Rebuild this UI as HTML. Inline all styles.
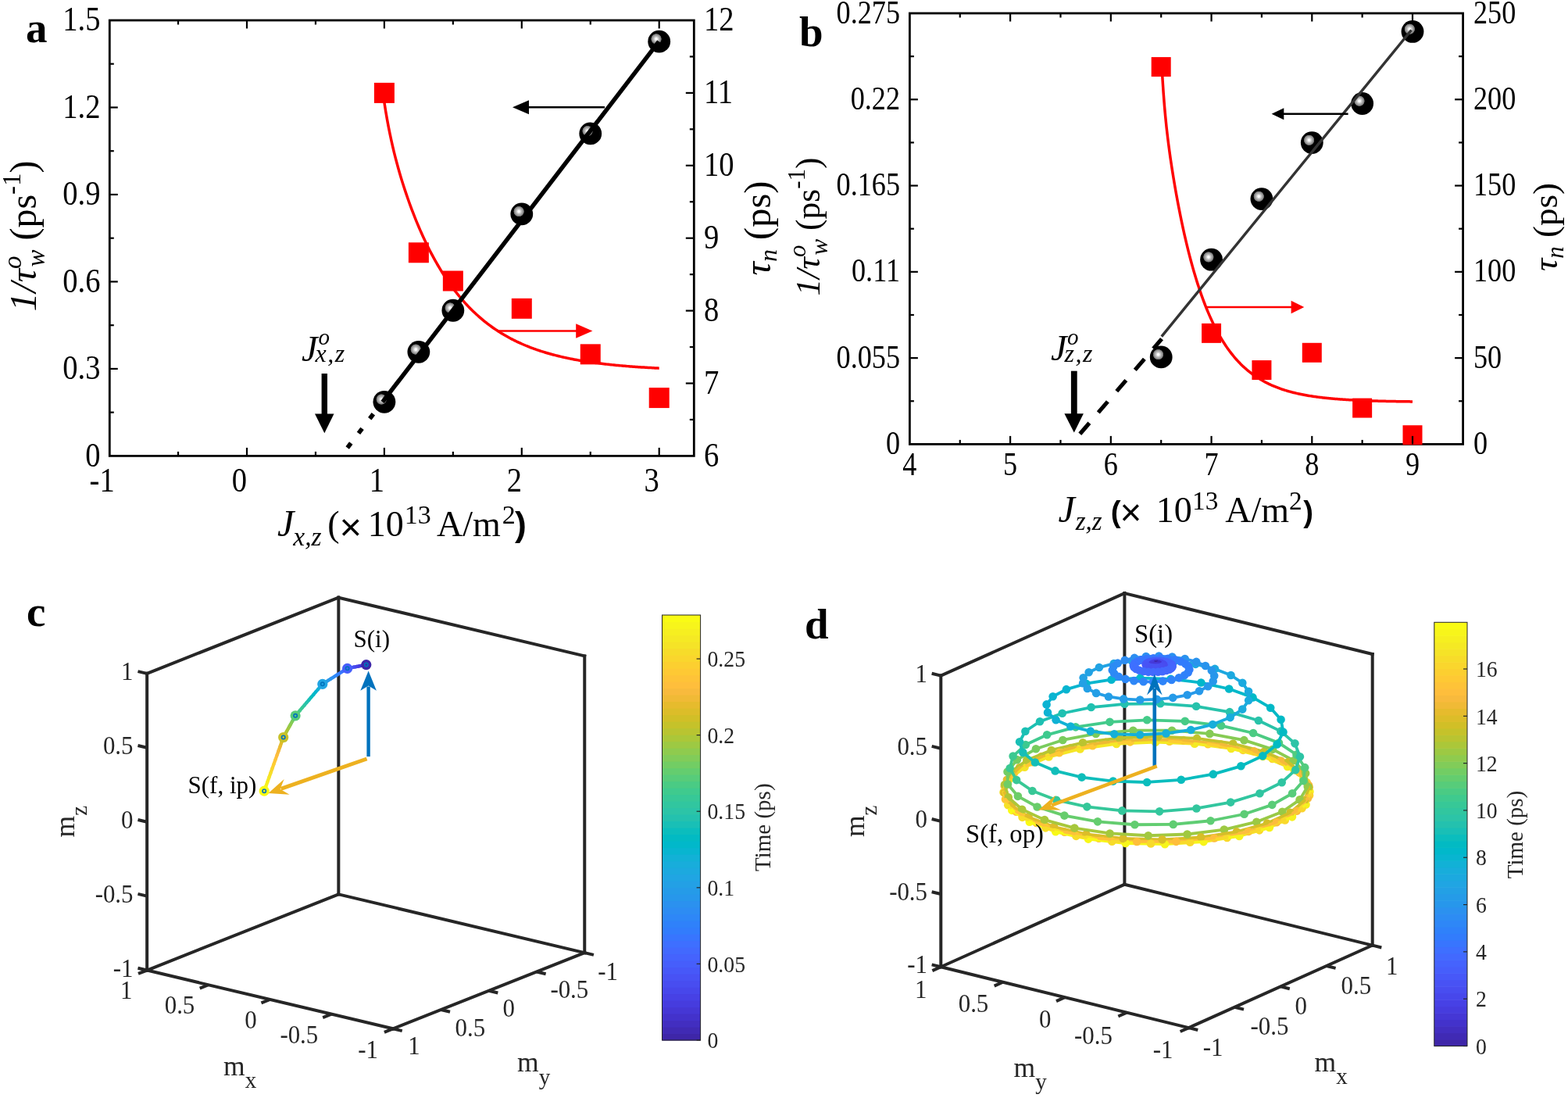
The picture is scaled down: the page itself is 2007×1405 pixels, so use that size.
<!DOCTYPE html>
<html><head><meta charset="utf-8"><title>Figure</title>
<style>html,body{margin:0;padding:0;background:#fff;} svg{display:block;}</style></head>
<body><svg width="2007" height="1405" viewBox="0 0 2007 1405">
<rect width="2007" height="1405" fill="#fff"/>
<defs>
<radialGradient id="ball" cx="0.372" cy="0.386" r="0.5" fx="0.372" fy="0.386"><stop offset="0" stop-color="#fff"/><stop offset="0.09" stop-color="#fff"/><stop offset="0.15" stop-color="#d8d8d8"/><stop offset="0.25" stop-color="#b8b8b8"/><stop offset="0.33" stop-color="#9c9c9c"/><stop offset="0.39" stop-color="#8a8a8a"/><stop offset="0.44" stop-color="#6a6a6a"/><stop offset="0.48" stop-color="#000"/><stop offset="1" stop-color="#000"/></radialGradient>
</defs>
<line x1="228.05" y1="583.4" x2="228.05" y2="577.9" stroke="#000" stroke-width="2.2" />
<line x1="228.05" y1="26" x2="228.05" y2="31.5" stroke="#000" stroke-width="2.2" />
<line x1="316" y1="583.4" x2="316" y2="572.9" stroke="#000" stroke-width="2.2" />
<line x1="316" y1="26" x2="316" y2="36.5" stroke="#000" stroke-width="2.2" />
<line x1="403.95" y1="583.4" x2="403.95" y2="577.9" stroke="#000" stroke-width="2.2" />
<line x1="403.95" y1="26" x2="403.95" y2="31.5" stroke="#000" stroke-width="2.2" />
<line x1="491.9" y1="583.4" x2="491.9" y2="572.9" stroke="#000" stroke-width="2.2" />
<line x1="491.9" y1="26" x2="491.9" y2="36.5" stroke="#000" stroke-width="2.2" />
<line x1="579.85" y1="583.4" x2="579.85" y2="577.9" stroke="#000" stroke-width="2.2" />
<line x1="579.85" y1="26" x2="579.85" y2="31.5" stroke="#000" stroke-width="2.2" />
<line x1="667.8" y1="583.4" x2="667.8" y2="572.9" stroke="#000" stroke-width="2.2" />
<line x1="667.8" y1="26" x2="667.8" y2="36.5" stroke="#000" stroke-width="2.2" />
<line x1="755.75" y1="583.4" x2="755.75" y2="577.9" stroke="#000" stroke-width="2.2" />
<line x1="755.75" y1="26" x2="755.75" y2="31.5" stroke="#000" stroke-width="2.2" />
<line x1="843.7" y1="583.4" x2="843.7" y2="572.9" stroke="#000" stroke-width="2.2" />
<line x1="843.7" y1="26" x2="843.7" y2="36.5" stroke="#000" stroke-width="2.2" />
<line x1="140.3" y1="527.66" x2="145.8" y2="527.66" stroke="#000" stroke-width="2.2" />
<line x1="140.3" y1="471.92" x2="150.8" y2="471.92" stroke="#000" stroke-width="2.2" />
<line x1="140.3" y1="416.18" x2="145.8" y2="416.18" stroke="#000" stroke-width="2.2" />
<line x1="140.3" y1="360.44" x2="150.8" y2="360.44" stroke="#000" stroke-width="2.2" />
<line x1="140.3" y1="304.7" x2="145.8" y2="304.7" stroke="#000" stroke-width="2.2" />
<line x1="140.3" y1="248.96" x2="150.8" y2="248.96" stroke="#000" stroke-width="2.2" />
<line x1="140.3" y1="193.22" x2="145.8" y2="193.22" stroke="#000" stroke-width="2.2" />
<line x1="140.3" y1="137.48" x2="150.8" y2="137.48" stroke="#000" stroke-width="2.2" />
<line x1="140.3" y1="81.74" x2="145.8" y2="81.74" stroke="#000" stroke-width="2.2" />
<line x1="888.3" y1="536.95" x2="882.8" y2="536.95" stroke="#000" stroke-width="2.2" />
<line x1="888.3" y1="490.5" x2="877.8" y2="490.5" stroke="#000" stroke-width="2.2" />
<line x1="888.3" y1="444.05" x2="882.8" y2="444.05" stroke="#000" stroke-width="2.2" />
<line x1="888.3" y1="397.6" x2="877.8" y2="397.6" stroke="#000" stroke-width="2.2" />
<line x1="888.3" y1="351.15" x2="882.8" y2="351.15" stroke="#000" stroke-width="2.2" />
<line x1="888.3" y1="304.7" x2="877.8" y2="304.7" stroke="#000" stroke-width="2.2" />
<line x1="888.3" y1="258.25" x2="882.8" y2="258.25" stroke="#000" stroke-width="2.2" />
<line x1="888.3" y1="211.8" x2="877.8" y2="211.8" stroke="#000" stroke-width="2.2" />
<line x1="888.3" y1="165.35" x2="882.8" y2="165.35" stroke="#000" stroke-width="2.2" />
<line x1="888.3" y1="118.9" x2="877.8" y2="118.9" stroke="#000" stroke-width="2.2" />
<line x1="888.3" y1="72.45" x2="882.8" y2="72.45" stroke="#000" stroke-width="2.2" />
<rect x="140.3" y="26.0" width="748" height="557.4" fill="none" stroke="#000" stroke-width="2.8"/>
<text transform="translate(130.6,628.5) scale(0.94,1.07)" font-size="41" text-anchor="middle" font-weight="normal" font-style="normal" fill="#000" font-family="'Liberation Serif','Times New Roman',serif" >-1</text>
<text transform="translate(306.5,628.5) scale(0.94,1.07)" font-size="41" text-anchor="middle" font-weight="normal" font-style="normal" fill="#000" font-family="'Liberation Serif','Times New Roman',serif" >0</text>
<text transform="translate(482.4,628.5) scale(0.94,1.07)" font-size="41" text-anchor="middle" font-weight="normal" font-style="normal" fill="#000" font-family="'Liberation Serif','Times New Roman',serif" >1</text>
<text transform="translate(658.3,628.5) scale(0.94,1.07)" font-size="41" text-anchor="middle" font-weight="normal" font-style="normal" fill="#000" font-family="'Liberation Serif','Times New Roman',serif" >2</text>
<text transform="translate(834.2,628.5) scale(0.94,1.07)" font-size="41" text-anchor="middle" font-weight="normal" font-style="normal" fill="#000" font-family="'Liberation Serif','Times New Roman',serif" >3</text>
<text transform="translate(128.5,596.6) scale(0.94,1.07)" font-size="41" text-anchor="end" font-weight="normal" font-style="normal" fill="#000" font-family="'Liberation Serif','Times New Roman',serif" >0</text>
<text transform="translate(128.5,485.12) scale(0.94,1.07)" font-size="41" text-anchor="end" font-weight="normal" font-style="normal" fill="#000" font-family="'Liberation Serif','Times New Roman',serif" >0.3</text>
<text transform="translate(128.5,373.64) scale(0.94,1.07)" font-size="41" text-anchor="end" font-weight="normal" font-style="normal" fill="#000" font-family="'Liberation Serif','Times New Roman',serif" >0.6</text>
<text transform="translate(128.5,262.16) scale(0.94,1.07)" font-size="41" text-anchor="end" font-weight="normal" font-style="normal" fill="#000" font-family="'Liberation Serif','Times New Roman',serif" >0.9</text>
<text transform="translate(128.5,150.68) scale(0.94,1.07)" font-size="41" text-anchor="end" font-weight="normal" font-style="normal" fill="#000" font-family="'Liberation Serif','Times New Roman',serif" >1.2</text>
<text transform="translate(128.5,39.2) scale(0.94,1.07)" font-size="41" text-anchor="end" font-weight="normal" font-style="normal" fill="#000" font-family="'Liberation Serif','Times New Roman',serif" >1.5</text>
<text transform="translate(901,596.6) scale(0.94,1.07)" font-size="41" text-anchor="start" font-weight="normal" font-style="normal" fill="#000" font-family="'Liberation Serif','Times New Roman',serif" >6</text>
<text transform="translate(901,503.7) scale(0.94,1.07)" font-size="41" text-anchor="start" font-weight="normal" font-style="normal" fill="#000" font-family="'Liberation Serif','Times New Roman',serif" >7</text>
<text transform="translate(901,410.8) scale(0.94,1.07)" font-size="41" text-anchor="start" font-weight="normal" font-style="normal" fill="#000" font-family="'Liberation Serif','Times New Roman',serif" >8</text>
<text transform="translate(901,317.9) scale(0.94,1.07)" font-size="41" text-anchor="start" font-weight="normal" font-style="normal" fill="#000" font-family="'Liberation Serif','Times New Roman',serif" >9</text>
<text transform="translate(901,225) scale(0.94,1.07)" font-size="41" text-anchor="start" font-weight="normal" font-style="normal" fill="#000" font-family="'Liberation Serif','Times New Roman',serif" >10</text>
<text transform="translate(901,132.1) scale(0.94,1.07)" font-size="41" text-anchor="start" font-weight="normal" font-style="normal" fill="#000" font-family="'Liberation Serif','Times New Roman',serif" >11</text>
<text transform="translate(901,39.2) scale(0.94,1.07)" font-size="41" text-anchor="start" font-weight="normal" font-style="normal" fill="#000" font-family="'Liberation Serif','Times New Roman',serif" >12</text>
<polyline points="491.9,131.07 493.66,142.18 495.42,152.39 497.18,161.84 498.94,170.65 500.7,178.91 502.45,186.69 504.21,194.07 505.97,201.09 507.73,207.8 509.49,214.24 511.25,220.43 513.01,226.4 514.77,232.16 516.53,237.75 518.28,243.16 520.04,248.42 521.8,253.53 523.56,258.5 525.32,263.35 527.08,268.07 528.84,272.67 530.6,277.16 532.36,281.54 534.12,285.82 535.88,290 537.63,294.09 539.39,298.07 541.15,301.97 542.91,305.78 544.67,309.51 546.43,313.15 548.19,316.71 549.95,320.19 551.71,323.59 553.47,326.92 555.22,330.17 556.98,333.35 558.74,336.46 560.5,339.5 562.26,342.48 564.02,345.39 565.78,348.23 567.54,351.02 569.3,353.74 571.06,356.4 572.81,359 574.57,361.55 576.33,364.04 578.09,366.48 579.85,368.86 581.61,371.19 583.37,373.47 585.13,375.69 586.89,377.87 588.64,380 590.4,382.09 592.16,384.13 593.92,386.12 595.68,388.07 597.44,389.98 599.2,391.85 600.96,393.67 602.72,395.46 604.48,397.2 606.24,398.91 607.99,400.58 609.75,402.21 611.51,403.81 613.27,405.37 615.03,406.9 616.79,408.39 618.55,409.85 620.31,411.28 622.07,412.68 623.83,414.05 625.58,415.38 627.34,416.69 629.1,417.97 630.86,419.22 632.62,420.45 634.38,421.64 636.14,422.81 637.9,423.96 639.66,425.08 641.41,426.17 643.17,427.24 644.93,428.29 646.69,429.31 648.45,430.32 650.21,431.3 651.97,432.25 653.73,433.19 655.49,434.11 657.25,435.01 659,435.88 660.76,436.74 662.52,437.58 664.28,438.4 666.04,439.2 667.8,439.99 669.56,440.75 671.32,441.5 673.08,442.24 674.84,442.96 676.6,443.66 678.35,444.35 680.11,445.02 681.87,445.68 683.63,446.32 685.39,446.95 687.15,447.56 688.91,448.16 690.67,448.75 692.43,449.33 694.18,449.89 695.94,450.44 697.7,450.98 699.46,451.5 701.22,452.02 702.98,452.52 704.74,453.01 706.5,453.49 708.26,453.97 710.02,454.43 711.78,454.88 713.53,455.32 715.29,455.75 717.05,456.17 718.81,456.58 720.57,456.98 722.33,457.38 724.09,457.76 725.85,458.14 727.61,458.51 729.37,458.87 731.12,459.22 732.88,459.57 734.64,459.91 736.4,460.24 738.16,460.56 739.92,460.88 741.68,461.19 743.44,461.49 745.2,461.78 746.96,462.07 748.71,462.35 750.47,462.63 752.23,462.9 753.99,463.17 755.75,463.42 757.51,463.68 759.27,463.92 761.03,464.17 762.79,464.4 764.54,464.63 766.3,464.86 768.06,465.08 769.82,465.3 771.58,465.51 773.34,465.72 775.1,465.92 776.86,466.12 778.62,466.31 780.38,466.5 782.13,466.69 783.89,466.87 785.65,467.05 787.41,467.22 789.17,467.39 790.93,467.55 792.69,467.72 794.45,467.88 796.21,468.03 797.97,468.18 799.73,468.33 801.48,468.48 803.24,468.62 805,468.76 806.76,468.89 808.52,469.03 810.28,469.16 812.04,469.28 813.8,469.41 815.56,469.53 817.32,469.65 819.07,469.76 820.83,469.88 822.59,469.99 824.35,470.1 826.11,470.2 827.87,470.31 829.63,470.41 831.39,470.51 833.15,470.61 834.91,470.7 836.66,470.79 838.42,470.89 840.18,470.97 841.94,471.06 843.7,471.15" fill="none" stroke="#f00" stroke-width="3.5" />
<rect x="478.9" y="105.9" width="26" height="26" fill="#f00"/>
<rect x="522.88" y="310.28" width="26" height="26" fill="#f00"/>
<rect x="566.85" y="346.51" width="26" height="26" fill="#f00"/>
<rect x="654.8" y="381.81" width="26" height="26" fill="#f00"/>
<rect x="742.75" y="440.34" width="26" height="26" fill="#f00"/>
<rect x="830.7" y="496.08" width="26" height="26" fill="#f00"/>
<line x1="444.67" y1="573" x2="489.68" y2="514.3" stroke="#000" stroke-width="5.6" stroke-dasharray="7.5 16"/>
<circle cx="491.9" cy="514.28" r="14.4" fill="url(#ball)"/>
<circle cx="535.88" cy="450.37" r="14.4" fill="url(#ball)"/>
<circle cx="579.85" cy="397.23" r="14.4" fill="url(#ball)"/>
<circle cx="667.8" cy="273.86" r="14.4" fill="url(#ball)"/>
<circle cx="755.75" cy="170.92" r="14.4" fill="url(#ball)"/>
<circle cx="843.7" cy="53.13" r="14.4" fill="url(#ball)"/>
<line x1="489.68" y1="514.3" x2="843.33" y2="53.1" stroke="#000" stroke-width="5.5" />
<line x1="774" y1="137.3" x2="670" y2="137.3" stroke="#000" stroke-width="2.6" />
<polygon points="656,137.3 677,128.3 677,146.3" fill="#000" />
<line x1="637" y1="423.5" x2="745" y2="423.5" stroke="#f00" stroke-width="2.4" />
<polygon points="758.4,423.5 737.2,414.3 737.2,432.7" fill="#f00" />
<rect x="411.6" y="478" width="7.4" height="53" fill="#000"/>
<polygon points="403,529.5 427.5,529.5 415.3,554.3" fill="#000" />
<text x="386" y="461.5" font-size="46" text-anchor="start" font-weight="normal" font-style="italic" fill="#000" font-family="'Liberation Serif','Times New Roman',serif" >J</text>
<text x="407.5" y="440.5" font-size="29" text-anchor="start" font-weight="normal" font-style="italic" fill="#000" font-family="'Liberation Serif','Times New Roman',serif" >o</text>
<text x="403.5" y="463" font-size="32" text-anchor="start" font-weight="normal" font-style="italic" fill="#000" font-family="'Liberation Serif','Times New Roman',serif" letter-spacing="1.5">x,z</text>
<text transform="translate(45.5,302) rotate(-90)" font-size="48" text-anchor="middle" font-family="'Liberation Serif','Times New Roman',serif"><tspan font-style="italic">1/τ</tspan><tspan font-style="italic" font-size="33" dy="-19">o</tspan><tspan font-style="italic" font-size="33" dx="-14" dy="30">w</tspan><tspan dy="-11"> (ps</tspan><tspan font-size="33" dy="-20">-1</tspan><tspan dy="20">)</tspan></text>
<text transform="translate(986,292) rotate(-90)" font-size="48.5" text-anchor="middle" font-family="'Liberation Serif','Times New Roman',serif"><tspan font-style="italic">τ</tspan><tspan font-style="italic" font-size="32" dy="8">n</tspan><tspan dy="-8"> (ps)</tspan></text>
<text font-size="46" font-family="'Liberation Serif','Times New Roman',serif"><tspan x="355.1" y="686" font-style="italic" font-size="48">J</tspan><tspan x="375.3" y="698" font-style="italic" font-size="33.5">x,z</tspan><tspan x="419.3" y="685.5">(</tspan><tspan x="434.4" y="691.4" font-family="'Liberation Sans',Arial,sans-serif" font-size="49">×</tspan><tspan x="470.7" y="686">10</tspan><tspan x="517.8" y="670.2" font-size="34">13</tspan><tspan x="559" y="686">A/m</tspan><tspan x="642.8" y="670" font-size="34">2</tspan><tspan x="659" y="686" font-family="'Liberation Sans',Arial,sans-serif" font-weight="bold" font-size="44.5">)</tspan></text>
<text x="33" y="54" font-size="55" text-anchor="start" font-weight="bold" font-style="normal" fill="#000" font-family="'Liberation Serif','Times New Roman',serif" >a</text>
<line x1="1228.76" y1="568.4" x2="1228.76" y2="562.9" stroke="#000" stroke-width="2.2" />
<line x1="1228.76" y1="17" x2="1228.76" y2="22.5" stroke="#000" stroke-width="2.2" />
<line x1="1293.12" y1="568.4" x2="1293.12" y2="557.9" stroke="#000" stroke-width="2.2" />
<line x1="1293.12" y1="17" x2="1293.12" y2="27.5" stroke="#000" stroke-width="2.2" />
<line x1="1357.48" y1="568.4" x2="1357.48" y2="562.9" stroke="#000" stroke-width="2.2" />
<line x1="1357.48" y1="17" x2="1357.48" y2="22.5" stroke="#000" stroke-width="2.2" />
<line x1="1421.84" y1="568.4" x2="1421.84" y2="557.9" stroke="#000" stroke-width="2.2" />
<line x1="1421.84" y1="17" x2="1421.84" y2="27.5" stroke="#000" stroke-width="2.2" />
<line x1="1486.2" y1="568.4" x2="1486.2" y2="562.9" stroke="#000" stroke-width="2.2" />
<line x1="1486.2" y1="17" x2="1486.2" y2="22.5" stroke="#000" stroke-width="2.2" />
<line x1="1550.56" y1="568.4" x2="1550.56" y2="557.9" stroke="#000" stroke-width="2.2" />
<line x1="1550.56" y1="17" x2="1550.56" y2="27.5" stroke="#000" stroke-width="2.2" />
<line x1="1614.92" y1="568.4" x2="1614.92" y2="562.9" stroke="#000" stroke-width="2.2" />
<line x1="1614.92" y1="17" x2="1614.92" y2="22.5" stroke="#000" stroke-width="2.2" />
<line x1="1679.28" y1="568.4" x2="1679.28" y2="557.9" stroke="#000" stroke-width="2.2" />
<line x1="1679.28" y1="17" x2="1679.28" y2="27.5" stroke="#000" stroke-width="2.2" />
<line x1="1743.64" y1="568.4" x2="1743.64" y2="562.9" stroke="#000" stroke-width="2.2" />
<line x1="1743.64" y1="17" x2="1743.64" y2="22.5" stroke="#000" stroke-width="2.2" />
<line x1="1808" y1="568.4" x2="1808" y2="557.9" stroke="#000" stroke-width="2.2" />
<line x1="1808" y1="17" x2="1808" y2="27.5" stroke="#000" stroke-width="2.2" />
<line x1="1164.4" y1="513.26" x2="1169.9" y2="513.26" stroke="#000" stroke-width="2.2" />
<line x1="1164.4" y1="458.12" x2="1174.9" y2="458.12" stroke="#000" stroke-width="2.2" />
<line x1="1164.4" y1="402.98" x2="1169.9" y2="402.98" stroke="#000" stroke-width="2.2" />
<line x1="1164.4" y1="347.84" x2="1174.9" y2="347.84" stroke="#000" stroke-width="2.2" />
<line x1="1164.4" y1="292.7" x2="1169.9" y2="292.7" stroke="#000" stroke-width="2.2" />
<line x1="1164.4" y1="237.56" x2="1174.9" y2="237.56" stroke="#000" stroke-width="2.2" />
<line x1="1164.4" y1="182.42" x2="1169.9" y2="182.42" stroke="#000" stroke-width="2.2" />
<line x1="1164.4" y1="127.28" x2="1174.9" y2="127.28" stroke="#000" stroke-width="2.2" />
<line x1="1164.4" y1="72.14" x2="1169.9" y2="72.14" stroke="#000" stroke-width="2.2" />
<line x1="1872.6" y1="513.26" x2="1867.1" y2="513.26" stroke="#000" stroke-width="2.2" />
<line x1="1872.6" y1="458.12" x2="1862.1" y2="458.12" stroke="#000" stroke-width="2.2" />
<line x1="1872.6" y1="402.98" x2="1867.1" y2="402.98" stroke="#000" stroke-width="2.2" />
<line x1="1872.6" y1="347.84" x2="1862.1" y2="347.84" stroke="#000" stroke-width="2.2" />
<line x1="1872.6" y1="292.7" x2="1867.1" y2="292.7" stroke="#000" stroke-width="2.2" />
<line x1="1872.6" y1="237.56" x2="1862.1" y2="237.56" stroke="#000" stroke-width="2.2" />
<line x1="1872.6" y1="182.42" x2="1867.1" y2="182.42" stroke="#000" stroke-width="2.2" />
<line x1="1872.6" y1="127.28" x2="1862.1" y2="127.28" stroke="#000" stroke-width="2.2" />
<line x1="1872.6" y1="72.14" x2="1867.1" y2="72.14" stroke="#000" stroke-width="2.2" />
<rect x="1164.4" y="17.0" width="708.2" height="551.4" fill="none" stroke="#000" stroke-width="2.8"/>
<text transform="translate(1164.4,607.8) scale(0.94,1.07)" font-size="38.5" text-anchor="middle" font-weight="normal" font-style="normal" fill="#000" font-family="'Liberation Serif','Times New Roman',serif" >4</text>
<text transform="translate(1293.12,607.8) scale(0.94,1.07)" font-size="38.5" text-anchor="middle" font-weight="normal" font-style="normal" fill="#000" font-family="'Liberation Serif','Times New Roman',serif" >5</text>
<text transform="translate(1421.84,607.8) scale(0.94,1.07)" font-size="38.5" text-anchor="middle" font-weight="normal" font-style="normal" fill="#000" font-family="'Liberation Serif','Times New Roman',serif" >6</text>
<text transform="translate(1550.56,607.8) scale(0.94,1.07)" font-size="38.5" text-anchor="middle" font-weight="normal" font-style="normal" fill="#000" font-family="'Liberation Serif','Times New Roman',serif" >7</text>
<text transform="translate(1679.28,607.8) scale(0.94,1.07)" font-size="38.5" text-anchor="middle" font-weight="normal" font-style="normal" fill="#000" font-family="'Liberation Serif','Times New Roman',serif" >8</text>
<text transform="translate(1808,607.8) scale(0.94,1.07)" font-size="38.5" text-anchor="middle" font-weight="normal" font-style="normal" fill="#000" font-family="'Liberation Serif','Times New Roman',serif" >9</text>
<text transform="translate(1152,580.9) scale(0.94,1.07)" font-size="38.5" text-anchor="end" font-weight="normal" font-style="normal" fill="#000" font-family="'Liberation Serif','Times New Roman',serif" >0</text>
<text transform="translate(1152,470.62) scale(0.94,1.07)" font-size="38.5" text-anchor="end" font-weight="normal" font-style="normal" fill="#000" font-family="'Liberation Serif','Times New Roman',serif" >0.055</text>
<text transform="translate(1152,360.34) scale(0.94,1.07)" font-size="38.5" text-anchor="end" font-weight="normal" font-style="normal" fill="#000" font-family="'Liberation Serif','Times New Roman',serif" >0.11</text>
<text transform="translate(1152,250.06) scale(0.94,1.07)" font-size="38.5" text-anchor="end" font-weight="normal" font-style="normal" fill="#000" font-family="'Liberation Serif','Times New Roman',serif" >0.165</text>
<text transform="translate(1152,139.78) scale(0.94,1.07)" font-size="38.5" text-anchor="end" font-weight="normal" font-style="normal" fill="#000" font-family="'Liberation Serif','Times New Roman',serif" >0.22</text>
<text transform="translate(1152,29.5) scale(0.94,1.07)" font-size="38.5" text-anchor="end" font-weight="normal" font-style="normal" fill="#000" font-family="'Liberation Serif','Times New Roman',serif" >0.275</text>
<text transform="translate(1886,580.9) scale(0.94,1.07)" font-size="38.5" text-anchor="start" font-weight="normal" font-style="normal" fill="#000" font-family="'Liberation Serif','Times New Roman',serif" >0</text>
<text transform="translate(1886,470.62) scale(0.94,1.07)" font-size="38.5" text-anchor="start" font-weight="normal" font-style="normal" fill="#000" font-family="'Liberation Serif','Times New Roman',serif" >50</text>
<text transform="translate(1886,360.34) scale(0.94,1.07)" font-size="38.5" text-anchor="start" font-weight="normal" font-style="normal" fill="#000" font-family="'Liberation Serif','Times New Roman',serif" >100</text>
<text transform="translate(1886,250.06) scale(0.94,1.07)" font-size="38.5" text-anchor="start" font-weight="normal" font-style="normal" fill="#000" font-family="'Liberation Serif','Times New Roman',serif" >150</text>
<text transform="translate(1886,139.78) scale(0.94,1.07)" font-size="38.5" text-anchor="start" font-weight="normal" font-style="normal" fill="#000" font-family="'Liberation Serif','Times New Roman',serif" >200</text>
<text transform="translate(1886,29.5) scale(0.94,1.07)" font-size="38.5" text-anchor="start" font-weight="normal" font-style="normal" fill="#000" font-family="'Liberation Serif','Times New Roman',serif" >250</text>
<polyline points="1486.59,75.06 1487.87,99.07 1489.16,118.72 1490.44,135.24 1491.73,149.49 1493.01,162.07 1494.3,173.42 1495.59,183.84 1496.87,193.53 1498.16,202.66 1499.44,211.33 1500.73,219.62 1502.01,227.58 1503.3,235.25 1504.59,242.68 1505.87,249.87 1507.16,256.85 1508.44,263.62 1509.73,270.21 1511.01,276.61 1512.3,282.84 1513.58,288.9 1514.87,294.81 1516.16,300.55 1517.44,306.14 1518.73,311.59 1520.01,316.89 1521.3,322.06 1522.58,327.09 1523.87,331.98 1525.16,336.75 1526.44,341.4 1527.73,345.92 1529.01,350.32 1530.3,354.61 1531.58,358.79 1532.87,362.86 1534.16,366.82 1535.44,370.68 1536.73,374.43 1538.01,378.09 1539.3,381.66 1540.58,385.13 1541.87,388.5 1543.15,391.8 1544.44,395 1545.73,398.12 1547.01,401.16 1548.3,404.12 1549.58,407.01 1550.87,409.81 1552.15,412.55 1553.44,415.21 1554.73,417.8 1556.01,420.33 1557.3,422.79 1558.58,425.18 1559.87,427.52 1561.15,429.79 1562.44,432 1563.73,434.15 1565.01,436.25 1566.3,438.3 1567.58,440.28 1568.87,442.22 1570.15,444.11 1571.44,445.95 1572.73,447.74 1574.01,449.48 1575.3,451.18 1576.58,452.83 1577.87,454.44 1579.15,456.01 1580.44,457.54 1581.72,459.02 1583.01,460.47 1584.3,461.88 1585.58,463.26 1586.87,464.59 1588.15,465.9 1589.44,467.16 1590.72,468.4 1592.01,469.6 1593.3,470.77 1594.58,471.92 1595.87,473.03 1597.15,474.11 1598.44,475.16 1599.72,476.19 1601.01,477.19 1602.3,478.16 1603.58,479.11 1604.87,480.03 1606.15,480.93 1607.44,481.81 1608.72,482.66 1610.01,483.49 1611.29,484.3 1612.58,485.09 1613.87,485.85 1615.15,486.6 1616.44,487.33 1617.72,488.04 1619.01,488.73 1620.29,489.4 1621.58,490.05 1622.87,490.69 1624.15,491.31 1625.44,491.91 1626.72,492.5 1628.01,493.08 1629.29,493.63 1630.58,494.18 1631.87,494.71 1633.15,495.22 1634.44,495.73 1635.72,496.21 1637.01,496.69 1638.29,497.15 1639.58,497.61 1640.86,498.05 1642.15,498.47 1643.44,498.89 1644.72,499.3 1646.01,499.69 1647.29,500.08 1648.58,500.45 1649.86,500.82 1651.15,501.17 1652.44,501.52 1653.72,501.86 1655.01,502.19 1656.29,502.51 1657.58,502.82 1658.86,503.12 1660.15,503.42 1661.44,503.71 1662.72,503.99 1664.01,504.26 1665.29,504.53 1666.58,504.78 1667.86,505.04 1669.15,505.28 1670.43,505.52 1671.72,505.75 1673.01,505.98 1674.29,506.2 1675.58,506.42 1676.86,506.63 1678.15,506.83 1679.43,507.03 1680.72,507.22 1682.01,507.41 1683.29,507.59 1684.58,507.77 1685.86,507.95 1687.15,508.12 1688.43,508.28 1689.72,508.44 1691.01,508.6 1692.29,508.75 1693.58,508.9 1694.86,509.05 1696.15,509.19 1697.43,509.32 1698.72,509.46 1700,509.59 1701.29,509.71 1702.58,509.84 1703.86,509.96 1705.15,510.07 1706.43,510.19 1707.72,510.3 1709,510.41 1710.29,510.51 1711.58,510.61 1712.86,510.71 1714.15,510.81 1715.43,510.91 1716.72,511 1718,511.09 1719.29,511.18 1720.58,511.26 1721.86,511.34 1723.15,511.42 1724.43,511.5 1725.72,511.58 1727,511.65 1728.29,511.73 1729.58,511.8 1730.86,511.87 1732.15,511.93 1733.43,512 1734.72,512.06 1736,512.13 1737.29,512.19 1738.57,512.24 1739.86,512.3 1741.15,512.36 1742.43,512.41 1743.72,512.46 1745,512.52 1746.29,512.57 1747.57,512.61 1748.86,512.66 1750.15,512.71 1751.43,512.75 1752.72,512.8 1754,512.84 1755.29,512.88 1756.57,512.92 1757.86,512.96 1759.15,513 1760.43,513.04 1761.72,513.07 1763,513.11 1764.29,513.14 1765.57,513.18 1766.86,513.21 1768.14,513.24 1769.43,513.27 1770.72,513.3 1772,513.33 1773.29,513.36 1774.57,513.39 1775.86,513.42 1777.14,513.44 1778.43,513.47 1779.72,513.5 1781,513.52 1782.29,513.54 1783.57,513.57 1784.86,513.59 1786.14,513.61 1787.43,513.63 1788.72,513.65 1790,513.68 1791.29,513.69 1792.57,513.71 1793.86,513.73 1795.14,513.75 1796.43,513.77 1797.71,513.79 1799,513.8 1800.29,513.82 1801.57,513.84 1802.86,513.85 1804.14,513.87 1805.43,513.88 1806.71,513.9 1808,513.91" fill="none" stroke="#f00" stroke-width="3.5" />
<rect x="1473.7" y="73.09" width="25" height="25" fill="#f00"/>
<rect x="1538.06" y="413.86" width="25" height="25" fill="#f00"/>
<rect x="1602.42" y="461.06" width="25" height="25" fill="#f00"/>
<rect x="1666.78" y="438.78" width="25" height="25" fill="#f00"/>
<rect x="1731.14" y="509.58" width="25" height="25" fill="#f00"/>
<rect x="1795.5" y="544.21" width="25" height="25" fill="#f00"/>
<line x1="1808" y1="568.4" x2="1808" y2="557.9" stroke="#000" stroke-width="2.2" />
<circle cx="1486.2" cy="456.92" r="14.4" fill="url(#ball)"/>
<circle cx="1550.56" cy="332.2" r="14.4" fill="url(#ball)"/>
<circle cx="1614.92" cy="254.6" r="14.4" fill="url(#ball)"/>
<circle cx="1679.28" cy="182.62" r="14.4" fill="url(#ball)"/>
<circle cx="1743.64" cy="132.49" r="14.4" fill="url(#ball)"/>
<circle cx="1808" cy="40.46" r="14.4" fill="url(#ball)"/>
<line x1="1382.3" y1="555.2" x2="1487" y2="433.6" stroke="#000" stroke-width="5.2" stroke-dasharray="18.5 17.5"/>
<line x1="1486.8" y1="430.6" x2="1806.5" y2="38.5" stroke="#333" stroke-width="3.4" />
<line x1="1725.6" y1="145.7" x2="1640" y2="145.7" stroke="#000" stroke-width="2.4" />
<polygon points="1627.6,145.7 1643.3,138.2 1643.3,153.2" fill="#000" />
<line x1="1544.4" y1="393" x2="1656" y2="393" stroke="#f00" stroke-width="2.4" />
<polygon points="1669.3,393 1652.6,384.7 1652.6,401.3" fill="#f00" />
<rect x="1370.9" y="474.7" width="7.8" height="56" fill="#000"/>
<polygon points="1362.4,529.2 1386.9,529.2 1374.8,553.4" fill="#000" />
<text x="1345" y="461" font-size="46" text-anchor="start" font-weight="normal" font-style="italic" fill="#000" font-family="'Liberation Serif','Times New Roman',serif" >J</text>
<text x="1366" y="440.5" font-size="29" text-anchor="start" font-weight="normal" font-style="italic" fill="#000" font-family="'Liberation Serif','Times New Roman',serif" >o</text>
<text x="1362.5" y="462.6" font-size="32" text-anchor="start" font-weight="normal" font-style="italic" fill="#000" font-family="'Liberation Serif','Times New Roman',serif" letter-spacing="1.5">z,z</text>
<text transform="translate(1048.5,290) rotate(-90)" font-size="43.5" text-anchor="middle" font-family="'Liberation Serif','Times New Roman',serif"><tspan font-style="italic">1/τ</tspan><tspan font-style="italic" font-size="31" dy="-18">o</tspan><tspan font-style="italic" font-size="31" dx="-13" dy="28">w</tspan><tspan dy="-10"> (ps</tspan><tspan font-size="31" dy="-19">-1</tspan><tspan dy="19">)</tspan></text>
<text transform="translate(1992.8,290.5) rotate(-90)" font-size="45" text-anchor="middle" font-family="'Liberation Serif','Times New Roman',serif"><tspan font-style="italic">τ</tspan><tspan font-style="italic" font-size="31" dy="8">n</tspan><tspan dy="-8"> (ps)</tspan></text>
<text font-size="46" font-family="'Liberation Serif','Times New Roman',serif"><tspan x="1354.4" y="668" font-style="italic" font-size="48">J</tspan><tspan x="1376.7" y="678.4" font-style="italic" font-size="33">z,z</tspan><tspan x="1421.8" y="667.8" font-family="'Liberation Sans',Arial,sans-serif" font-weight="bold" font-size="38.6">(</tspan><tspan x="1433.5" y="671.7" font-family="'Liberation Sans',Arial,sans-serif" font-size="47.5">×</tspan><tspan x="1479.8" y="668">10</tspan><tspan x="1526.1" y="652.2" font-size="33.3">13</tspan><tspan x="1568.3" y="668">A/m</tspan><tspan x="1649.9" y="652.2" font-size="33.3">2</tspan><tspan x="1668.3" y="667.6" font-family="'Liberation Sans',Arial,sans-serif" font-weight="bold" font-size="38.2">)</tspan></text>
<text x="1023" y="58.5" font-size="55" text-anchor="start" font-weight="bold" font-style="normal" fill="#000" font-family="'Liberation Serif','Times New Roman',serif" >b</text>
<line x1="188.15" y1="1241.55" x2="188.15" y2="861.85" stroke="#262626" stroke-width="4" stroke-linecap="square"/>
<line x1="433.35" y1="1144.35" x2="433.35" y2="764.65" stroke="#262626" stroke-width="4" stroke-linecap="square"/>
<line x1="748.25" y1="1219.15" x2="748.25" y2="839.45" stroke="#262626" stroke-width="4" stroke-linecap="square"/>
<line x1="188.15" y1="861.85" x2="433.35" y2="764.65" stroke="#262626" stroke-width="4" stroke-linecap="square"/>
<line x1="433.35" y1="764.65" x2="748.25" y2="839.45" stroke="#262626" stroke-width="4" stroke-linecap="square"/>
<line x1="188.15" y1="1241.55" x2="433.35" y2="1144.35" stroke="#262626" stroke-width="4" stroke-linecap="square"/>
<line x1="433.35" y1="1144.35" x2="748.25" y2="1219.15" stroke="#262626" stroke-width="4" stroke-linecap="square"/>
<line x1="188.15" y1="1241.55" x2="503.05" y2="1316.35" stroke="#262626" stroke-width="4" stroke-linecap="square"/>
<line x1="503.05" y1="1316.35" x2="748.25" y2="1219.15" stroke="#262626" stroke-width="4" stroke-linecap="square"/>
<line x1="188.15" y1="1241.55" x2="176.47" y2="1238.78" stroke="#262626" stroke-width="4" />
<line x1="188.15" y1="1146.62" x2="176.47" y2="1143.85" stroke="#262626" stroke-width="4" />
<line x1="188.15" y1="1051.7" x2="176.47" y2="1048.93" stroke="#262626" stroke-width="4" />
<line x1="188.15" y1="956.78" x2="176.47" y2="954" stroke="#262626" stroke-width="4" />
<line x1="188.15" y1="861.85" x2="176.47" y2="859.08" stroke="#262626" stroke-width="4" />
<line x1="188.15" y1="1241.55" x2="176.99" y2="1245.97" stroke="#262626" stroke-width="4" />
<line x1="266.88" y1="1260.25" x2="255.72" y2="1264.67" stroke="#262626" stroke-width="4" />
<line x1="345.6" y1="1278.95" x2="334.44" y2="1283.37" stroke="#262626" stroke-width="4" />
<line x1="424.32" y1="1297.65" x2="413.17" y2="1302.07" stroke="#262626" stroke-width="4" />
<line x1="503.05" y1="1316.35" x2="491.89" y2="1320.77" stroke="#262626" stroke-width="4" />
<line x1="503.05" y1="1316.35" x2="514.73" y2="1319.12" stroke="#262626" stroke-width="4" />
<line x1="564.35" y1="1292.05" x2="576.03" y2="1294.82" stroke="#262626" stroke-width="4" />
<line x1="625.65" y1="1267.75" x2="637.33" y2="1270.52" stroke="#262626" stroke-width="4" />
<line x1="686.95" y1="1243.45" x2="698.63" y2="1246.22" stroke="#262626" stroke-width="4" />
<line x1="748.25" y1="1219.15" x2="759.93" y2="1221.92" stroke="#262626" stroke-width="4" />
<text transform="translate(170.5,870.05) scale(0.95,1.03)" font-size="32.5" text-anchor="end" font-weight="normal" font-style="normal" fill="#262626" font-family="'Liberation Serif','Times New Roman',serif" >1</text>
<text transform="translate(170.5,964.98) scale(0.95,1.03)" font-size="32.5" text-anchor="end" font-weight="normal" font-style="normal" fill="#262626" font-family="'Liberation Serif','Times New Roman',serif" >0.5</text>
<text transform="translate(170.5,1059.9) scale(0.95,1.03)" font-size="32.5" text-anchor="end" font-weight="normal" font-style="normal" fill="#262626" font-family="'Liberation Serif','Times New Roman',serif" >0</text>
<text transform="translate(170.5,1154.83) scale(0.95,1.03)" font-size="32.5" text-anchor="end" font-weight="normal" font-style="normal" fill="#262626" font-family="'Liberation Serif','Times New Roman',serif" >-0.5</text>
<text transform="translate(170.5,1249.75) scale(0.95,1.03)" font-size="32.5" text-anchor="end" font-weight="normal" font-style="normal" fill="#262626" font-family="'Liberation Serif','Times New Roman',serif" >-1</text>
<text transform="translate(161.7,1278) scale(0.95,1.03)" font-size="32.5" text-anchor="middle" font-weight="normal" font-style="normal" fill="#262626" font-family="'Liberation Serif','Times New Roman',serif" >1</text>
<text transform="translate(230,1296.7) scale(0.95,1.03)" font-size="32.5" text-anchor="middle" font-weight="normal" font-style="normal" fill="#262626" font-family="'Liberation Serif','Times New Roman',serif" >0.5</text>
<text transform="translate(320.9,1315.9) scale(0.95,1.03)" font-size="32.5" text-anchor="middle" font-weight="normal" font-style="normal" fill="#262626" font-family="'Liberation Serif','Times New Roman',serif" >0</text>
<text transform="translate(382.8,1334.7) scale(0.95,1.03)" font-size="32.5" text-anchor="middle" font-weight="normal" font-style="normal" fill="#262626" font-family="'Liberation Serif','Times New Roman',serif" >-0.5</text>
<text transform="translate(471.2,1353.7) scale(0.95,1.03)" font-size="32.5" text-anchor="middle" font-weight="normal" font-style="normal" fill="#262626" font-family="'Liberation Serif','Times New Roman',serif" >-1</text>
<text transform="translate(530,1349.2) scale(0.95,1.03)" font-size="32.5" text-anchor="middle" font-weight="normal" font-style="normal" fill="#262626" font-family="'Liberation Serif','Times New Roman',serif" >1</text>
<text transform="translate(601.8,1326.2) scale(0.95,1.03)" font-size="32.5" text-anchor="middle" font-weight="normal" font-style="normal" fill="#262626" font-family="'Liberation Serif','Times New Roman',serif" >0.5</text>
<text transform="translate(651.1,1301.4) scale(0.95,1.03)" font-size="32.5" text-anchor="middle" font-weight="normal" font-style="normal" fill="#262626" font-family="'Liberation Serif','Times New Roman',serif" >0</text>
<text transform="translate(728.8,1277.4) scale(0.95,1.03)" font-size="32.5" text-anchor="middle" font-weight="normal" font-style="normal" fill="#262626" font-family="'Liberation Serif','Times New Roman',serif" >-0.5</text>
<text transform="translate(778.2,1253.5) scale(0.95,1.03)" font-size="32.5" text-anchor="middle" font-weight="normal" font-style="normal" fill="#262626" font-family="'Liberation Serif','Times New Roman',serif" >-1</text>
<text transform="translate(94.9,1071.4) rotate(-90)" font-size="35.5" font-family="'Liberation Serif','Times New Roman',serif" fill="#262626">m<tspan font-size="29" dy="16.4">z</tspan></text>
<text x="286" y="1376" font-size="35.5" font-family="'Liberation Serif','Times New Roman',serif" fill="#262626">m<tspan font-size="29" dy="16.4">x</tspan></text>
<text x="662" y="1371.4" font-size="35.5" font-family="'Liberation Serif','Times New Roman',serif" fill="#262626">m<tspan font-size="29" dy="16.4">y</tspan></text>
<line x1="468.8" y1="850.6" x2="466.78" y2="850.99" stroke="#3f28ae" stroke-width="4.3" stroke-linecap="round"/>
<line x1="466.78" y1="850.99" x2="464.77" y2="851.38" stroke="#412cb9" stroke-width="4.3" stroke-linecap="round"/>
<line x1="464.77" y1="851.38" x2="462.75" y2="851.77" stroke="#4230c4" stroke-width="4.3" stroke-linecap="round"/>
<line x1="462.75" y1="851.77" x2="460.73" y2="852.17" stroke="#4434ce" stroke-width="4.3" stroke-linecap="round"/>
<line x1="460.73" y1="852.17" x2="458.72" y2="852.56" stroke="#4538d8" stroke-width="4.3" stroke-linecap="round"/>
<line x1="458.72" y1="852.56" x2="456.7" y2="852.95" stroke="#463de0" stroke-width="4.3" stroke-linecap="round"/>
<line x1="456.7" y1="852.95" x2="454.68" y2="853.34" stroke="#4742e6" stroke-width="4.3" stroke-linecap="round"/>
<line x1="454.68" y1="853.34" x2="452.67" y2="853.73" stroke="#4747ec" stroke-width="4.3" stroke-linecap="round"/>
<line x1="452.67" y1="853.73" x2="450.65" y2="854.12" stroke="#484df0" stroke-width="4.3" stroke-linecap="round"/>
<line x1="450.65" y1="854.12" x2="448.63" y2="854.52" stroke="#4852f4" stroke-width="4.3" stroke-linecap="round"/>
<line x1="448.63" y1="854.52" x2="446.62" y2="854.91" stroke="#4757f8" stroke-width="4.3" stroke-linecap="round"/>
<line x1="446.62" y1="854.91" x2="444.6" y2="855.3" stroke="#465dfa" stroke-width="4.3" stroke-linecap="round"/>
<line x1="444.6" y1="855.3" x2="441.95" y2="856.97" stroke="#4562fc" stroke-width="4.3" stroke-linecap="round"/>
<line x1="441.95" y1="856.97" x2="439.3" y2="858.63" stroke="#4369fe" stroke-width="4.3" stroke-linecap="round"/>
<line x1="439.3" y1="858.63" x2="436.65" y2="860.3" stroke="#3e6fff" stroke-width="4.3" stroke-linecap="round"/>
<line x1="436.65" y1="860.3" x2="434" y2="861.97" stroke="#3875fe" stroke-width="4.3" stroke-linecap="round"/>
<line x1="434" y1="861.97" x2="431.35" y2="863.63" stroke="#327cfc" stroke-width="4.3" stroke-linecap="round"/>
<line x1="431.35" y1="863.63" x2="428.7" y2="865.3" stroke="#2f82fa" stroke-width="4.3" stroke-linecap="round"/>
<line x1="428.7" y1="865.3" x2="426.05" y2="866.97" stroke="#2d88f6" stroke-width="4.3" stroke-linecap="round"/>
<line x1="426.05" y1="866.97" x2="423.4" y2="868.63" stroke="#2d8df2" stroke-width="4.3" stroke-linecap="round"/>
<line x1="423.4" y1="868.63" x2="420.75" y2="870.3" stroke="#2a93ee" stroke-width="4.3" stroke-linecap="round"/>
<line x1="420.75" y1="870.3" x2="418.1" y2="871.97" stroke="#2798ea" stroke-width="4.3" stroke-linecap="round"/>
<line x1="418.1" y1="871.97" x2="415.45" y2="873.63" stroke="#249de7" stroke-width="4.3" stroke-linecap="round"/>
<line x1="415.45" y1="873.63" x2="412.8" y2="875.3" stroke="#22a2e4" stroke-width="4.3" stroke-linecap="round"/>
<line x1="412.8" y1="875.3" x2="409.91" y2="878.67" stroke="#1ea7e1" stroke-width="4.3" stroke-linecap="round"/>
<line x1="409.91" y1="878.67" x2="407.02" y2="882.05" stroke="#19addc" stroke-width="4.3" stroke-linecap="round"/>
<line x1="407.02" y1="882.05" x2="404.12" y2="885.42" stroke="#11b1d6" stroke-width="4.3" stroke-linecap="round"/>
<line x1="404.12" y1="885.42" x2="401.23" y2="888.8" stroke="#05b6ce" stroke-width="4.3" stroke-linecap="round"/>
<line x1="401.23" y1="888.8" x2="398.34" y2="892.17" stroke="#01b9c6" stroke-width="4.3" stroke-linecap="round"/>
<line x1="398.34" y1="892.17" x2="395.45" y2="895.55" stroke="#0abdbd" stroke-width="4.3" stroke-linecap="round"/>
<line x1="395.45" y1="895.55" x2="392.56" y2="898.92" stroke="#1ac0b5" stroke-width="4.3" stroke-linecap="round"/>
<line x1="392.56" y1="898.92" x2="389.67" y2="902.3" stroke="#27c2ac" stroke-width="4.3" stroke-linecap="round"/>
<line x1="389.67" y1="902.3" x2="386.78" y2="905.67" stroke="#2fc5a2" stroke-width="4.3" stroke-linecap="round"/>
<line x1="386.78" y1="905.67" x2="383.88" y2="909.05" stroke="#37c898" stroke-width="4.3" stroke-linecap="round"/>
<line x1="383.88" y1="909.05" x2="380.99" y2="912.42" stroke="#41ca8c" stroke-width="4.3" stroke-linecap="round"/>
<line x1="380.99" y1="912.42" x2="378.1" y2="915.8" stroke="#50cc80" stroke-width="4.3" stroke-linecap="round"/>
<line x1="378.1" y1="915.8" x2="376.82" y2="918.11" stroke="#5ccc76" stroke-width="4.3" stroke-linecap="round"/>
<line x1="376.82" y1="918.11" x2="375.53" y2="920.42" stroke="#65cd6e" stroke-width="4.3" stroke-linecap="round"/>
<line x1="375.53" y1="920.42" x2="374.25" y2="922.72" stroke="#6ecd66" stroke-width="4.3" stroke-linecap="round"/>
<line x1="374.25" y1="922.72" x2="372.97" y2="925.03" stroke="#78cc5f" stroke-width="4.3" stroke-linecap="round"/>
<line x1="372.97" y1="925.03" x2="371.68" y2="927.34" stroke="#83cc57" stroke-width="4.3" stroke-linecap="round"/>
<line x1="371.68" y1="927.34" x2="370.4" y2="929.65" stroke="#8ccb50" stroke-width="4.3" stroke-linecap="round"/>
<line x1="370.4" y1="929.65" x2="369.12" y2="931.96" stroke="#96ca48" stroke-width="4.3" stroke-linecap="round"/>
<line x1="369.12" y1="931.96" x2="367.83" y2="934.27" stroke="#a0c841" stroke-width="4.3" stroke-linecap="round"/>
<line x1="367.83" y1="934.27" x2="366.55" y2="936.58" stroke="#a9c73a" stroke-width="4.3" stroke-linecap="round"/>
<line x1="366.55" y1="936.58" x2="365.27" y2="938.88" stroke="#b3c534" stroke-width="4.3" stroke-linecap="round"/>
<line x1="365.27" y1="938.88" x2="363.98" y2="941.19" stroke="#bcc42f" stroke-width="4.3" stroke-linecap="round"/>
<line x1="363.98" y1="941.19" x2="362.7" y2="943.5" stroke="#c4c22b" stroke-width="4.3" stroke-linecap="round"/>
<line x1="362.7" y1="943.5" x2="360.66" y2="949.23" stroke="#d0bf27" stroke-width="4.3" stroke-linecap="round"/>
<line x1="360.66" y1="949.23" x2="358.62" y2="954.95" stroke="#debc2a" stroke-width="4.3" stroke-linecap="round"/>
<line x1="358.62" y1="954.95" x2="356.57" y2="960.67" stroke="#ebba32" stroke-width="4.3" stroke-linecap="round"/>
<line x1="356.57" y1="960.67" x2="354.53" y2="966.4" stroke="#f7ba3c" stroke-width="4.3" stroke-linecap="round"/>
<line x1="354.53" y1="966.4" x2="352.49" y2="972.12" stroke="#febe3c" stroke-width="4.3" stroke-linecap="round"/>
<line x1="352.49" y1="972.12" x2="350.45" y2="977.85" stroke="#fec636" stroke-width="4.3" stroke-linecap="round"/>
<line x1="350.45" y1="977.85" x2="348.41" y2="983.58" stroke="#fdce31" stroke-width="4.3" stroke-linecap="round"/>
<line x1="348.41" y1="983.58" x2="346.37" y2="989.3" stroke="#f9d62d" stroke-width="4.3" stroke-linecap="round"/>
<line x1="346.37" y1="989.3" x2="344.32" y2="995.03" stroke="#f6df29" stroke-width="4.3" stroke-linecap="round"/>
<line x1="344.32" y1="995.03" x2="342.28" y2="1000.75" stroke="#f5e725" stroke-width="4.3" stroke-linecap="round"/>
<line x1="342.28" y1="1000.75" x2="340.24" y2="1006.48" stroke="#f6ef20" stroke-width="4.3" stroke-linecap="round"/>
<line x1="340.24" y1="1006.48" x2="338.2" y2="1012.2" stroke="#f8f719" stroke-width="4.3" stroke-linecap="round"/>
<circle cx="468.8" cy="850.6" r="6.6" fill="#3e26a8"/>
<circle cx="468.8" cy="850.6" r="2.2" fill="none" stroke="#0072bd" stroke-width="1.6"/>
<circle cx="444.6" cy="855.3" r="6.6" fill="#465ffb"/>
<circle cx="444.6" cy="855.3" r="2.2" fill="none" stroke="#0072bd" stroke-width="1.6"/>
<circle cx="412.8" cy="875.3" r="6.6" fill="#20a4e3"/>
<circle cx="412.8" cy="875.3" r="2.2" fill="none" stroke="#0072bd" stroke-width="1.6"/>
<circle cx="378.1" cy="915.8" r="6.6" fill="#58cc79"/>
<circle cx="378.1" cy="915.8" r="2.2" fill="none" stroke="#0072bd" stroke-width="1.6"/>
<circle cx="362.7" cy="943.5" r="6.6" fill="#c8c129"/>
<circle cx="362.7" cy="943.5" r="2.2" fill="none" stroke="#0072bd" stroke-width="1.6"/>
<circle cx="338.2" cy="1012.2" r="6.6" fill="#f9fb15"/>
<circle cx="338.2" cy="1012.2" r="2.2" fill="none" stroke="#0072bd" stroke-width="1.6"/>
<line x1="471.6" y1="968.1" x2="471.6" y2="878.5" stroke="#0072bd" stroke-width="4.4" />
<polygon points="471.6,858.5 461.3,883.8 471.6,877.5 481.9,883.8" fill="#0072bd" />
<line x1="469.5" y1="971" x2="359.55" y2="1009.48" stroke="#edb120" stroke-width="5" />
<polygon points="343.5,1015.1 370.57,1016.75 358.6,1009.81 363.63,996.93" fill="#edb120" />
<text x="452.5" y="828.3" font-size="31" text-anchor="start" font-weight="normal" font-style="normal" fill="#000" font-family="'Liberation Serif','Times New Roman',serif" >S(i)</text>
<text x="240.5" y="1015.3" font-size="31" text-anchor="start" font-weight="normal" font-style="normal" fill="#000" font-family="'Liberation Serif','Times New Roman',serif" >S(f, ip)</text>
<rect x="847.5" y="1322.5" width="49.1" height="9.1" fill="#3e26a8"/>
<rect x="847.5" y="1314" width="49.1" height="9.1" fill="#402ab4"/>
<rect x="847.5" y="1305.5" width="49.1" height="9.1" fill="#422ec0"/>
<rect x="847.5" y="1297" width="49.1" height="9.1" fill="#4332cb"/>
<rect x="847.5" y="1288.5" width="49.1" height="9.1" fill="#4537d5"/>
<rect x="847.5" y="1280" width="49.1" height="9.1" fill="#463cde"/>
<rect x="847.5" y="1271.5" width="49.1" height="9.1" fill="#4741e5"/>
<rect x="847.5" y="1263" width="49.1" height="9.1" fill="#4747eb"/>
<rect x="847.5" y="1254.5" width="49.1" height="9.1" fill="#484df0"/>
<rect x="847.5" y="1246" width="49.1" height="9.1" fill="#4852f4"/>
<rect x="847.5" y="1237.5" width="49.1" height="9.1" fill="#4758f8"/>
<rect x="847.5" y="1229" width="49.1" height="9.1" fill="#465efb"/>
<rect x="847.5" y="1220.5" width="49.1" height="9.1" fill="#4563fd"/>
<rect x="847.5" y="1212" width="49.1" height="9.1" fill="#4269fe"/>
<rect x="847.5" y="1203.5" width="49.1" height="9.1" fill="#3e6fff"/>
<rect x="847.5" y="1195" width="49.1" height="9.1" fill="#3875fe"/>
<rect x="847.5" y="1186.5" width="49.1" height="9.1" fill="#327cfc"/>
<rect x="847.5" y="1178" width="49.1" height="9.1" fill="#2f81fa"/>
<rect x="847.5" y="1169.5" width="49.1" height="9.1" fill="#2e87f7"/>
<rect x="847.5" y="1161" width="49.1" height="9.1" fill="#2d8cf3"/>
<rect x="847.5" y="1152.5" width="49.1" height="9.1" fill="#2b91ef"/>
<rect x="847.5" y="1144" width="49.1" height="9.1" fill="#2797eb"/>
<rect x="847.5" y="1135.5" width="49.1" height="9.1" fill="#259be8"/>
<rect x="847.5" y="1127" width="49.1" height="9.1" fill="#23a0e5"/>
<rect x="847.5" y="1118.5" width="49.1" height="9.1" fill="#20a5e3"/>
<rect x="847.5" y="1110" width="49.1" height="9.1" fill="#1ca9df"/>
<rect x="847.5" y="1101.5" width="49.1" height="9.1" fill="#18addb"/>
<rect x="847.5" y="1093" width="49.1" height="9.1" fill="#12b1d6"/>
<rect x="847.5" y="1084.5" width="49.1" height="9.1" fill="#08b5d0"/>
<rect x="847.5" y="1076" width="49.1" height="9.1" fill="#01b8ca"/>
<rect x="847.5" y="1067.5" width="49.1" height="9.1" fill="#02bac3"/>
<rect x="847.5" y="1059" width="49.1" height="9.1" fill="#0bbdbd"/>
<rect x="847.5" y="1050.5" width="49.1" height="9.1" fill="#19bfb6"/>
<rect x="847.5" y="1042" width="49.1" height="9.1" fill="#24c1ae"/>
<rect x="847.5" y="1033.5" width="49.1" height="9.1" fill="#2cc4a7"/>
<rect x="847.5" y="1025" width="49.1" height="9.1" fill="#31c69f"/>
<rect x="847.5" y="1016.5" width="49.1" height="9.1" fill="#37c897"/>
<rect x="847.5" y="1008" width="49.1" height="9.1" fill="#3fca8e"/>
<rect x="847.5" y="999.5" width="49.1" height="9.1" fill="#4acb84"/>
<rect x="847.5" y="991" width="49.1" height="9.1" fill="#57cc7a"/>
<rect x="847.5" y="982.5" width="49.1" height="9.1" fill="#64cd6f"/>
<rect x="847.5" y="974" width="49.1" height="9.1" fill="#72cd64"/>
<rect x="847.5" y="965.5" width="49.1" height="9.1" fill="#81cc59"/>
<rect x="847.5" y="957" width="49.1" height="9.1" fill="#8fcb4e"/>
<rect x="847.5" y="948.5" width="49.1" height="9.1" fill="#9dc943"/>
<rect x="847.5" y="940" width="49.1" height="9.1" fill="#abc739"/>
<rect x="847.5" y="931.5" width="49.1" height="9.1" fill="#b9c431"/>
<rect x="847.5" y="923" width="49.1" height="9.1" fill="#c5c22a"/>
<rect x="847.5" y="914.5" width="49.1" height="9.1" fill="#d1bf27"/>
<rect x="847.5" y="906" width="49.1" height="9.1" fill="#dcbd29"/>
<rect x="847.5" y="897.5" width="49.1" height="9.1" fill="#e6bb2d"/>
<rect x="847.5" y="889" width="49.1" height="9.1" fill="#f0ba36"/>
<rect x="847.5" y="880.5" width="49.1" height="9.1" fill="#f8ba3d"/>
<rect x="847.5" y="872" width="49.1" height="9.1" fill="#febe3c"/>
<rect x="847.5" y="863.5" width="49.1" height="9.1" fill="#fec338"/>
<rect x="847.5" y="855" width="49.1" height="9.1" fill="#fec934"/>
<rect x="847.5" y="846.5" width="49.1" height="9.1" fill="#fccf30"/>
<rect x="847.5" y="838" width="49.1" height="9.1" fill="#fad62d"/>
<rect x="847.5" y="829.5" width="49.1" height="9.1" fill="#f7dc2a"/>
<rect x="847.5" y="821" width="49.1" height="9.1" fill="#f5e327"/>
<rect x="847.5" y="812.5" width="49.1" height="9.1" fill="#f5e924"/>
<rect x="847.5" y="804" width="49.1" height="9.1" fill="#f6ef20"/>
<rect x="847.5" y="795.5" width="49.1" height="9.1" fill="#f7f51b"/>
<rect x="847.5" y="787" width="49.1" height="9.1" fill="#f9fb15"/>
<rect x="847.5" y="787" width="49.1" height="544" fill="none" stroke="#262626" stroke-width="1"/>
<line x1="891.6" y1="1331" x2="896.6" y2="1331" stroke="#262626" stroke-width="1.2" />
<text transform="translate(905.5,1341.2) scale(0.94,1.02)" font-size="29.5" text-anchor="start" font-weight="normal" font-style="normal" fill="#262626" font-family="'Liberation Serif','Times New Roman',serif" >0</text>
<line x1="891.6" y1="1233.4" x2="896.6" y2="1233.4" stroke="#262626" stroke-width="1.2" />
<text transform="translate(905.5,1243.6) scale(0.94,1.02)" font-size="29.5" text-anchor="start" font-weight="normal" font-style="normal" fill="#262626" font-family="'Liberation Serif','Times New Roman',serif" >0.05</text>
<line x1="891.6" y1="1135.81" x2="896.6" y2="1135.81" stroke="#262626" stroke-width="1.2" />
<text transform="translate(905.5,1146.01) scale(0.94,1.02)" font-size="29.5" text-anchor="start" font-weight="normal" font-style="normal" fill="#262626" font-family="'Liberation Serif','Times New Roman',serif" >0.1</text>
<line x1="891.6" y1="1038.21" x2="896.6" y2="1038.21" stroke="#262626" stroke-width="1.2" />
<text transform="translate(905.5,1048.41) scale(0.94,1.02)" font-size="29.5" text-anchor="start" font-weight="normal" font-style="normal" fill="#262626" font-family="'Liberation Serif','Times New Roman',serif" >0.15</text>
<line x1="891.6" y1="940.62" x2="896.6" y2="940.62" stroke="#262626" stroke-width="1.2" />
<text transform="translate(905.5,950.82) scale(0.94,1.02)" font-size="29.5" text-anchor="start" font-weight="normal" font-style="normal" fill="#262626" font-family="'Liberation Serif','Times New Roman',serif" >0.2</text>
<line x1="891.6" y1="843.02" x2="896.6" y2="843.02" stroke="#262626" stroke-width="1.2" />
<text transform="translate(905.5,853.22) scale(0.94,1.02)" font-size="29.5" text-anchor="start" font-weight="normal" font-style="normal" fill="#262626" font-family="'Liberation Serif','Times New Roman',serif" >0.25</text>
<text transform="translate(985.5,1058.7) rotate(-90)" font-size="29" text-anchor="middle" font-family="'Liberation Serif','Times New Roman',serif" fill="#262626">Time (ps)</text>
<text x="34" y="801" font-size="55" text-anchor="start" font-weight="bold" font-style="normal" fill="#000" font-family="'Liberation Serif','Times New Roman',serif" >c</text>
<line x1="1204.3" y1="1237.2" x2="1204.3" y2="864.6" stroke="#262626" stroke-width="4" stroke-linecap="square"/>
<line x1="1439.4" y1="1131.7" x2="1439.4" y2="759.1" stroke="#262626" stroke-width="4" stroke-linecap="square"/>
<line x1="1756.7" y1="1209.6" x2="1756.7" y2="837" stroke="#262626" stroke-width="4" stroke-linecap="square"/>
<line x1="1204.3" y1="864.6" x2="1439.4" y2="759.1" stroke="#262626" stroke-width="4" stroke-linecap="square"/>
<line x1="1439.4" y1="759.1" x2="1756.7" y2="837" stroke="#262626" stroke-width="4" stroke-linecap="square"/>
<line x1="1204.3" y1="1237.2" x2="1439.4" y2="1131.7" stroke="#262626" stroke-width="4" stroke-linecap="square"/>
<line x1="1439.4" y1="1131.7" x2="1756.7" y2="1209.6" stroke="#262626" stroke-width="4" stroke-linecap="square"/>
<line x1="1204.3" y1="1237.2" x2="1521.6" y2="1315.1" stroke="#262626" stroke-width="4" stroke-linecap="square"/>
<line x1="1521.6" y1="1315.1" x2="1756.7" y2="1209.6" stroke="#262626" stroke-width="4" stroke-linecap="square"/>
<line x1="1204.3" y1="1237.2" x2="1192.65" y2="1234.34" stroke="#262626" stroke-width="4" />
<line x1="1204.3" y1="1144.05" x2="1192.65" y2="1141.19" stroke="#262626" stroke-width="4" />
<line x1="1204.3" y1="1050.9" x2="1192.65" y2="1048.04" stroke="#262626" stroke-width="4" />
<line x1="1204.3" y1="957.75" x2="1192.65" y2="954.89" stroke="#262626" stroke-width="4" />
<line x1="1204.3" y1="864.6" x2="1192.65" y2="861.74" stroke="#262626" stroke-width="4" />
<line x1="1204.3" y1="1237.2" x2="1193.35" y2="1242.11" stroke="#262626" stroke-width="4" />
<line x1="1283.62" y1="1256.67" x2="1272.68" y2="1261.59" stroke="#262626" stroke-width="4" />
<line x1="1362.95" y1="1276.15" x2="1352" y2="1281.06" stroke="#262626" stroke-width="4" />
<line x1="1442.28" y1="1295.62" x2="1431.33" y2="1300.54" stroke="#262626" stroke-width="4" />
<line x1="1521.6" y1="1315.1" x2="1510.65" y2="1320.01" stroke="#262626" stroke-width="4" />
<line x1="1756.7" y1="1209.6" x2="1768.35" y2="1212.46" stroke="#262626" stroke-width="4" />
<line x1="1697.93" y1="1235.97" x2="1709.58" y2="1238.84" stroke="#262626" stroke-width="4" />
<line x1="1639.15" y1="1262.35" x2="1650.8" y2="1265.21" stroke="#262626" stroke-width="4" />
<line x1="1580.38" y1="1288.72" x2="1592.03" y2="1291.59" stroke="#262626" stroke-width="4" />
<line x1="1521.6" y1="1315.1" x2="1533.25" y2="1317.96" stroke="#262626" stroke-width="4" />
<text transform="translate(1187,872.8) scale(0.95,1.03)" font-size="32.5" text-anchor="end" font-weight="normal" font-style="normal" fill="#262626" font-family="'Liberation Serif','Times New Roman',serif" >1</text>
<text transform="translate(1187,965.95) scale(0.95,1.03)" font-size="32.5" text-anchor="end" font-weight="normal" font-style="normal" fill="#262626" font-family="'Liberation Serif','Times New Roman',serif" >0.5</text>
<text transform="translate(1187,1059.1) scale(0.95,1.03)" font-size="32.5" text-anchor="end" font-weight="normal" font-style="normal" fill="#262626" font-family="'Liberation Serif','Times New Roman',serif" >0</text>
<text transform="translate(1187,1152.25) scale(0.95,1.03)" font-size="32.5" text-anchor="end" font-weight="normal" font-style="normal" fill="#262626" font-family="'Liberation Serif','Times New Roman',serif" >-0.5</text>
<text transform="translate(1187,1245.4) scale(0.95,1.03)" font-size="32.5" text-anchor="end" font-weight="normal" font-style="normal" fill="#262626" font-family="'Liberation Serif','Times New Roman',serif" >-1</text>
<text transform="translate(1178.8,1277.2) scale(0.95,1.03)" font-size="32.5" text-anchor="middle" font-weight="normal" font-style="normal" fill="#262626" font-family="'Liberation Serif','Times New Roman',serif" >1</text>
<text transform="translate(1246,1295) scale(0.95,1.03)" font-size="32.5" text-anchor="middle" font-weight="normal" font-style="normal" fill="#262626" font-family="'Liberation Serif','Times New Roman',serif" >0.5</text>
<text transform="translate(1337.7,1315) scale(0.95,1.03)" font-size="32.5" text-anchor="middle" font-weight="normal" font-style="normal" fill="#262626" font-family="'Liberation Serif','Times New Roman',serif" >0</text>
<text transform="translate(1399.4,1336.1) scale(0.95,1.03)" font-size="32.5" text-anchor="middle" font-weight="normal" font-style="normal" fill="#262626" font-family="'Liberation Serif','Times New Roman',serif" >-0.5</text>
<text transform="translate(1488.5,1353.9) scale(0.95,1.03)" font-size="32.5" text-anchor="middle" font-weight="normal" font-style="normal" fill="#262626" font-family="'Liberation Serif','Times New Roman',serif" >-1</text>
<text transform="translate(1552.7,1350.7) scale(0.95,1.03)" font-size="32.5" text-anchor="middle" font-weight="normal" font-style="normal" fill="#262626" font-family="'Liberation Serif','Times New Roman',serif" >-1</text>
<text transform="translate(1624.9,1324.4) scale(0.95,1.03)" font-size="32.5" text-anchor="middle" font-weight="normal" font-style="normal" fill="#262626" font-family="'Liberation Serif','Times New Roman',serif" >-0.5</text>
<text transform="translate(1665.1,1298) scale(0.95,1.03)" font-size="32.5" text-anchor="middle" font-weight="normal" font-style="normal" fill="#262626" font-family="'Liberation Serif','Times New Roman',serif" >0</text>
<text transform="translate(1735.9,1271.7) scale(0.95,1.03)" font-size="32.5" text-anchor="middle" font-weight="normal" font-style="normal" fill="#262626" font-family="'Liberation Serif','Times New Roman',serif" >0.5</text>
<text transform="translate(1781.7,1246.7) scale(0.95,1.03)" font-size="32.5" text-anchor="middle" font-weight="normal" font-style="normal" fill="#262626" font-family="'Liberation Serif','Times New Roman',serif" >1</text>
<text transform="translate(1106,1071) rotate(-90)" font-size="35.5" font-family="'Liberation Serif','Times New Roman',serif" fill="#262626">m<tspan font-size="29" dy="16.4">z</tspan></text>
<text x="1297.5" y="1377.5" font-size="35.5" font-family="'Liberation Serif','Times New Roman',serif" fill="#262626">m<tspan font-size="29" dy="16.4">y</tspan></text>
<text x="1682.5" y="1370.6" font-size="35.5" font-family="'Liberation Serif','Times New Roman',serif" fill="#262626">m<tspan font-size="29" dy="16.4">x</tspan></text>
<circle cx="1478.99" cy="949.7" r="5.3" fill="#f5e825"/>
<circle cx="1496.93" cy="948.63" r="5.3" fill="#fdcc32"/>
<line x1="1446.6" y1="949.34" x2="1496.93" y2="948.63" stroke="#fdcc32" stroke-width="3.8" stroke-linecap="round"/>
<circle cx="1464.43" cy="946.28" r="5.3" fill="#efba35"/>
<line x1="1478.99" y1="949.7" x2="1529.05" y2="951.73" stroke="#f5e924" stroke-width="3.8" stroke-linecap="round"/>
<line x1="1429.03" y1="951.97" x2="1478.99" y2="949.7" stroke="#f5e825" stroke-width="3.8" stroke-linecap="round"/>
<line x1="1464.43" y1="946.28" x2="1514.68" y2="947.15" stroke="#f0ba36" stroke-width="3.8" stroke-linecap="round"/>
<circle cx="1446.6" cy="949.34" r="5.3" fill="#fdcb33"/>
<circle cx="1482.34" cy="942.44" r="5.3" fill="#bfc32d"/>
<circle cx="1514.68" cy="947.15" r="5.3" fill="#f0ba36"/>
<circle cx="1529.05" cy="951.73" r="5.3" fill="#f5e924"/>
<line x1="1496.93" y1="948.63" x2="1546.18" y2="952.22" stroke="#fdcd32" stroke-width="3.8" stroke-linecap="round"/>
<line x1="1432.57" y1="944.27" x2="1482.34" y2="942.44" stroke="#bec32e" stroke-width="3.8" stroke-linecap="round"/>
<circle cx="1429.03" cy="951.97" r="5.3" fill="#f5e725"/>
<line x1="1482.34" y1="942.44" x2="1532.01" y2="944.9" stroke="#c0c32d" stroke-width="3.8" stroke-linecap="round"/>
<line x1="1415.26" y1="949.7" x2="1464.43" y2="946.28" stroke="#eeba34" stroke-width="3.8" stroke-linecap="round"/>
<circle cx="1500.01" cy="934.7" r="5.3" fill="#82cc57"/>
<circle cx="1432.57" cy="944.27" r="5.3" fill="#bdc32e"/>
<line x1="1450.35" y1="934.7" x2="1500.01" y2="934.7" stroke="#81cc58" stroke-width="3.8" stroke-linecap="round"/>
<circle cx="1532.01" cy="944.9" r="5.3" fill="#c2c32c"/>
<line x1="1398.51" y1="954.28" x2="1446.6" y2="949.34" stroke="#fdcb33" stroke-width="3.8" stroke-linecap="round"/>
<circle cx="1450.35" cy="934.7" r="5.3" fill="#80cc59"/>
<circle cx="1546.18" cy="952.22" r="5.3" fill="#fdcd31"/>
<line x1="1514.68" y1="947.15" x2="1562.67" y2="952.25" stroke="#f1ba37" stroke-width="3.8" stroke-linecap="round"/>
<circle cx="1415.26" cy="949.7" r="5.3" fill="#edba33"/>
<line x1="1529.05" y1="951.73" x2="1575.9" y2="957.93" stroke="#f5ea24" stroke-width="3.8" stroke-linecap="round"/>
<line x1="1500.01" y1="934.7" x2="1548.43" y2="938.92" stroke="#84cc56" stroke-width="3.8" stroke-linecap="round"/>
<line x1="1382.47" y1="958.41" x2="1429.03" y2="951.97" stroke="#f5e725" stroke-width="3.8" stroke-linecap="round"/>
<line x1="1402.74" y1="938.89" x2="1450.35" y2="934.7" stroke="#7ecc5a" stroke-width="3.8" stroke-linecap="round"/>
<circle cx="1468.18" cy="921.29" r="5.3" fill="#45cb89"/>
<circle cx="1398.51" cy="954.28" r="5.3" fill="#feca33"/>
<line x1="1385.99" y1="950.24" x2="1432.57" y2="944.27" stroke="#bcc42f" stroke-width="3.8" stroke-linecap="round"/>
<line x1="1468.18" y1="921.29" x2="1516.81" y2="922.87" stroke="#46cb88" stroke-width="3.8" stroke-linecap="round"/>
<circle cx="1562.67" cy="952.25" r="5.3" fill="#f2ba38"/>
<line x1="1532.01" y1="944.9" x2="1578.28" y2="951.49" stroke="#c3c22b" stroke-width="3.8" stroke-linecap="round"/>
<circle cx="1548.43" cy="938.92" r="5.3" fill="#85cb55"/>
<circle cx="1516.81" cy="922.87" r="5.3" fill="#47cb87"/>
<line x1="1546.18" y1="952.22" x2="1591.09" y2="959.86" stroke="#fdce31" stroke-width="3.8" stroke-linecap="round"/>
<line x1="1420.47" y1="923.86" x2="1468.18" y2="921.29" stroke="#44cb8a" stroke-width="3.8" stroke-linecap="round"/>
<line x1="1370.42" y1="957.16" x2="1415.26" y2="949.7" stroke="#ecba33" stroke-width="3.8" stroke-linecap="round"/>
<circle cx="1575.9" cy="957.93" r="5.3" fill="#f5ea23"/>
<circle cx="1402.74" cy="938.89" r="5.3" fill="#7dcc5b"/>
<circle cx="1382.47" cy="958.41" r="5.3" fill="#f5e626"/>
<circle cx="1420.47" cy="923.86" r="5.3" fill="#43ca8a"/>
<line x1="1516.81" y1="922.87" x2="1563.14" y2="928.54" stroke="#48cb86" stroke-width="3.8" stroke-linecap="round"/>
<circle cx="1385.99" cy="950.24" r="5.3" fill="#bbc430"/>
<circle cx="1578.28" cy="951.49" r="5.3" fill="#c4c22b"/>
<line x1="1355.86" y1="963.13" x2="1398.51" y2="954.28" stroke="#fec934" stroke-width="3.8" stroke-linecap="round"/>
<line x1="1548.43" y1="938.92" x2="1592.42" y2="947.14" stroke="#86cb54" stroke-width="3.8" stroke-linecap="round"/>
<line x1="1562.67" y1="952.25" x2="1605.23" y2="961.25" stroke="#f3ba38" stroke-width="3.8" stroke-linecap="round"/>
<circle cx="1591.09" cy="959.86" r="5.3" fill="#fccf31"/>
<circle cx="1370.42" cy="957.16" r="5.3" fill="#ebba32"/>
<circle cx="1563.14" cy="928.54" r="5.3" fill="#49cb85"/>
<circle cx="1485.28" cy="900.31" r="5.3" fill="#25c2ad"/>
<line x1="1360.34" y1="946.95" x2="1402.74" y2="938.89" stroke="#7ccc5c" stroke-width="3.8" stroke-linecap="round"/>
<line x1="1376.83" y1="930.36" x2="1420.47" y2="923.86" stroke="#42ca8b" stroke-width="3.8" stroke-linecap="round"/>
<line x1="1439.43" y1="900.78" x2="1485.28" y2="900.31" stroke="#24c2ae" stroke-width="3.8" stroke-linecap="round"/>
<line x1="1575.9" y1="957.93" x2="1616.44" y2="967.91" stroke="#f5eb23" stroke-width="3.8" stroke-linecap="round"/>
<line x1="1485.28" y1="900.31" x2="1531.14" y2="903.8" stroke="#26c2ad" stroke-width="3.8" stroke-linecap="round"/>
<line x1="1342.41" y1="968.57" x2="1382.47" y2="958.41" stroke="#f5e526" stroke-width="3.8" stroke-linecap="round"/>
<circle cx="1439.43" cy="900.78" r="5.3" fill="#24c1af"/>
<circle cx="1531.14" cy="903.8" r="5.3" fill="#27c2ac"/>
<line x1="1345.68" y1="959.95" x2="1385.99" y2="950.24" stroke="#b9c430" stroke-width="3.8" stroke-linecap="round"/>
<circle cx="1592.42" cy="947.14" r="5.3" fill="#88cb53"/>
<line x1="1578.28" y1="951.49" x2="1618.1" y2="961.8" stroke="#c5c22a" stroke-width="3.8" stroke-linecap="round"/>
<circle cx="1355.86" cy="963.13" r="5.3" fill="#fec934"/>
<circle cx="1605.23" cy="961.25" r="5.3" fill="#f3ba39"/>
<line x1="1563.14" y1="928.54" x2="1604.08" y2="937.99" stroke="#4acb84" stroke-width="3.8" stroke-linecap="round"/>
<circle cx="1376.83" cy="930.36" r="5.3" fill="#41ca8c"/>
<line x1="1396.63" y1="905.06" x2="1439.43" y2="900.78" stroke="#22c1af" stroke-width="3.8" stroke-linecap="round"/>
<line x1="1591.09" y1="959.86" x2="1628.69" y2="971.06" stroke="#fccf30" stroke-width="3.8" stroke-linecap="round"/>
<line x1="1531.14" y1="903.8" x2="1573.96" y2="911.14" stroke="#27c2ab" stroke-width="3.8" stroke-linecap="round"/>
<circle cx="1360.34" cy="946.95" r="5.3" fill="#7acc5d"/>
<line x1="1332.87" y1="968.17" x2="1370.42" y2="957.16" stroke="#ebba31" stroke-width="3.8" stroke-linecap="round"/>
<circle cx="1616.44" cy="967.91" r="5.3" fill="#f5ec23"/>
<circle cx="1342.41" cy="968.57" r="5.3" fill="#f5e526"/>
<circle cx="1345.68" cy="959.95" r="5.3" fill="#b8c431"/>
<circle cx="1396.63" cy="905.06" r="5.3" fill="#21c1b0"/>
<circle cx="1573.96" cy="911.14" r="5.3" fill="#28c3ab"/>
<circle cx="1618.1" cy="961.8" r="5.3" fill="#c6c22a"/>
<line x1="1592.42" y1="947.14" x2="1629.05" y2="958.83" stroke="#89cb52" stroke-width="3.8" stroke-linecap="round"/>
<circle cx="1604.08" cy="937.99" r="5.3" fill="#4bcb83"/>
<line x1="1321.46" y1="975.29" x2="1355.86" y2="963.13" stroke="#fec834" stroke-width="3.8" stroke-linecap="round"/>
<line x1="1605.23" y1="961.25" x2="1639.54" y2="973.57" stroke="#f4ba3a" stroke-width="3.8" stroke-linecap="round"/>
<line x1="1340.14" y1="940.31" x2="1376.83" y2="930.36" stroke="#40ca8d" stroke-width="3.8" stroke-linecap="round"/>
<circle cx="1628.69" cy="971.06" r="5.3" fill="#fcd030"/>
<circle cx="1332.87" cy="968.17" r="5.3" fill="#eabb30"/>
<line x1="1325.95" y1="958.31" x2="1360.34" y2="946.95" stroke="#79cc5e" stroke-width="3.8" stroke-linecap="round"/>
<line x1="1359.68" y1="912.75" x2="1396.63" y2="905.06" stroke="#20c1b1" stroke-width="3.8" stroke-linecap="round"/>
<line x1="1616.44" y1="967.91" x2="1647.98" y2="980.99" stroke="#f5ec22" stroke-width="3.8" stroke-linecap="round"/>
<line x1="1573.96" y1="911.14" x2="1610.86" y2="921.95" stroke="#29c3aa" stroke-width="3.8" stroke-linecap="round"/>
<line x1="1311.49" y1="981.78" x2="1342.41" y2="968.57" stroke="#f5e426" stroke-width="3.8" stroke-linecap="round"/>
<circle cx="1629.05" cy="958.83" r="5.3" fill="#8acb51"/>
<line x1="1314.3" y1="972.74" x2="1345.68" y2="959.95" stroke="#b7c532" stroke-width="3.8" stroke-linecap="round"/>
<circle cx="1498.56" cy="868.91" r="5.3" fill="#03b7cb"/>
<line x1="1618.1" y1="961.8" x2="1648.82" y2="975.15" stroke="#c7c12a" stroke-width="3.8" stroke-linecap="round"/>
<line x1="1604.08" y1="937.99" x2="1636.92" y2="950.62" stroke="#4ccb82" stroke-width="3.8" stroke-linecap="round"/>
<line x1="1459.43" y1="867.67" x2="1498.56" y2="868.91" stroke="#03b7cc" stroke-width="3.8" stroke-linecap="round"/>
<circle cx="1340.14" cy="940.31" r="5.3" fill="#3fca8e"/>
<circle cx="1321.46" cy="975.29" r="5.3" fill="#fec835"/>
<circle cx="1459.43" cy="867.67" r="5.3" fill="#04b6cd"/>
<line x1="1498.56" y1="868.91" x2="1537.36" y2="873.55" stroke="#02b7cb" stroke-width="3.8" stroke-linecap="round"/>
<circle cx="1639.54" cy="973.57" r="5.3" fill="#f5ba3a"/>
<circle cx="1537.36" cy="873.55" r="5.3" fill="#01b7ca"/>
<circle cx="1359.68" cy="912.75" r="5.3" fill="#1fc1b1"/>
<circle cx="1325.95" cy="958.31" r="5.3" fill="#77cc5f"/>
<circle cx="1610.86" cy="921.95" r="5.3" fill="#29c3a9"/>
<line x1="1422.57" y1="869.72" x2="1459.43" y2="867.67" stroke="#04b6cd" stroke-width="3.8" stroke-linecap="round"/>
<line x1="1628.69" y1="971.06" x2="1656.48" y2="985.09" stroke="#fcd030" stroke-width="3.8" stroke-linecap="round"/>
<line x1="1305.09" y1="981.98" x2="1332.87" y2="968.17" stroke="#e9bb2f" stroke-width="3.8" stroke-linecap="round"/>
<circle cx="1647.98" cy="980.99" r="5.3" fill="#f5ed22"/>
<circle cx="1422.57" cy="869.72" r="5.3" fill="#05b6ce"/>
<line x1="1537.36" y1="873.55" x2="1573.18" y2="881.49" stroke="#01b8ca" stroke-width="3.8" stroke-linecap="round"/>
<circle cx="1311.49" cy="981.78" r="5.3" fill="#f5e427"/>
<circle cx="1314.3" cy="972.74" r="5.3" fill="#b6c532"/>
<line x1="1629.05" y1="958.83" x2="1655.88" y2="973.28" stroke="#8ccb50" stroke-width="3.8" stroke-linecap="round"/>
<circle cx="1636.92" cy="950.62" r="5.3" fill="#4ecc81"/>
<circle cx="1648.82" cy="975.15" r="5.3" fill="#c8c129"/>
<line x1="1312.81" y1="953" x2="1340.14" y2="940.31" stroke="#3eca8f" stroke-width="3.8" stroke-linecap="round"/>
<circle cx="1573.18" cy="881.49" r="5.3" fill="#01b8c9"/>
<line x1="1297.59" y1="989.96" x2="1321.46" y2="975.29" stroke="#fec735" stroke-width="3.8" stroke-linecap="round"/>
<line x1="1331" y1="923.23" x2="1359.68" y2="912.75" stroke="#1ec0b2" stroke-width="3.8" stroke-linecap="round"/>
<line x1="1639.54" y1="973.57" x2="1663.33" y2="988.4" stroke="#f6ba3b" stroke-width="3.8" stroke-linecap="round"/>
<line x1="1390.39" y1="874.72" x2="1422.57" y2="869.72" stroke="#06b6ce" stroke-width="3.8" stroke-linecap="round"/>
<line x1="1610.86" y1="921.95" x2="1639.34" y2="935.63" stroke="#2ac3a9" stroke-width="3.8" stroke-linecap="round"/>
<line x1="1301.82" y1="972.17" x2="1325.95" y2="958.31" stroke="#76cc60" stroke-width="3.8" stroke-linecap="round"/>
<circle cx="1656.48" cy="985.09" r="5.3" fill="#fcd12f"/>
<circle cx="1305.09" cy="981.98" r="5.3" fill="#e8bb2f"/>
<circle cx="1390.39" cy="874.72" r="5.3" fill="#06b5cf"/>
<line x1="1647.98" y1="980.99" x2="1668.44" y2="996.32" stroke="#f5ed21" stroke-width="3.8" stroke-linecap="round"/>
<line x1="1573.18" y1="881.49" x2="1603.52" y2="892.39" stroke="#01b8c9" stroke-width="3.8" stroke-linecap="round"/>
<circle cx="1655.88" cy="973.28" r="5.3" fill="#8dcb4f"/>
<line x1="1291.76" y1="997.17" x2="1311.49" y2="981.78" stroke="#f5e327" stroke-width="3.8" stroke-linecap="round"/>
<line x1="1636.92" y1="950.62" x2="1659.46" y2="965.67" stroke="#4fcc81" stroke-width="3.8" stroke-linecap="round"/>
<line x1="1293.94" y1="987.76" x2="1314.3" y2="972.74" stroke="#b5c533" stroke-width="3.8" stroke-linecap="round"/>
<circle cx="1312.81" cy="953" r="5.3" fill="#3dca90"/>
<line x1="1648.82" y1="975.15" x2="1668.41" y2="990.68" stroke="#c9c129" stroke-width="3.8" stroke-linecap="round"/>
<circle cx="1331" cy="923.23" r="5.3" fill="#1dc0b3"/>
<circle cx="1639.34" cy="935.63" r="5.3" fill="#2bc3a8"/>
<circle cx="1297.59" cy="989.96" r="5.3" fill="#fec736"/>
<circle cx="1663.33" cy="988.4" r="5.3" fill="#f7ba3c"/>
<circle cx="1603.52" cy="892.39" r="5.3" fill="#01b9c8"/>
<line x1="1364.9" y1="882.13" x2="1390.39" y2="874.72" stroke="#07b5cf" stroke-width="3.8" stroke-linecap="round"/>
<circle cx="1301.82" cy="972.17" r="5.3" fill="#75cc61"/>
<line x1="1656.48" y1="985.09" x2="1672.62" y2="1001.01" stroke="#fbd12f" stroke-width="3.8" stroke-linecap="round"/>
<line x1="1288.93" y1="997.68" x2="1305.09" y2="981.98" stroke="#e7bb2e" stroke-width="3.8" stroke-linecap="round"/>
<line x1="1475.4" y1="844.88" x2="1503.09" y2="846.16" stroke="#1fa6e2" stroke-width="3.8" stroke-linecap="round"/>
<circle cx="1503.09" cy="846.16" r="5.3" fill="#1fa6e1"/>
<circle cx="1475.4" cy="844.88" r="5.3" fill="#1fa5e2"/>
<circle cx="1668.44" cy="996.32" r="5.3" fill="#f5ee21"/>
<circle cx="1659.46" cy="965.67" r="5.3" fill="#50cc80"/>
<line x1="1655.88" y1="973.28" x2="1671.12" y2="989.55" stroke="#8ecb4e" stroke-width="3.8" stroke-linecap="round"/>
<line x1="1503.09" y1="846.16" x2="1530.26" y2="849.86" stroke="#1ea7e1" stroke-width="3.8" stroke-linecap="round"/>
<circle cx="1291.76" cy="997.17" r="5.3" fill="#f5e327"/>
<line x1="1449.04" y1="845.94" x2="1475.4" y2="844.88" stroke="#20a5e2" stroke-width="3.8" stroke-linecap="round"/>
<circle cx="1293.94" cy="987.76" r="5.3" fill="#b3c534"/>
<line x1="1312.4" y1="935.71" x2="1331" y2="923.23" stroke="#1cc0b3" stroke-width="3.8" stroke-linecap="round"/>
<line x1="1296.63" y1="967.55" x2="1312.81" y2="953" stroke="#3dc991" stroke-width="3.8" stroke-linecap="round"/>
<circle cx="1364.9" cy="882.13" r="5.3" fill="#07b5d0"/>
<circle cx="1668.41" cy="990.68" r="5.3" fill="#cac129"/>
<line x1="1639.34" y1="935.63" x2="1657.45" y2="951.37" stroke="#2cc4a7" stroke-width="3.8" stroke-linecap="round"/>
<line x1="1603.52" y1="892.39" x2="1626.21" y2="905.72" stroke="#01b9c7" stroke-width="3.8" stroke-linecap="round"/>
<circle cx="1530.26" cy="849.86" r="5.3" fill="#1ea7e1"/>
<circle cx="1449.04" cy="845.94" r="5.3" fill="#20a5e3"/>
<line x1="1285.83" y1="1006.15" x2="1297.59" y2="989.96" stroke="#fec636" stroke-width="3.8" stroke-linecap="round"/>
<line x1="1663.33" y1="988.4" x2="1675.03" y2="1004.77" stroke="#f7ba3c" stroke-width="3.8" stroke-linecap="round"/>
<line x1="1425.73" y1="849.12" x2="1449.04" y2="845.94" stroke="#20a4e3" stroke-width="3.8" stroke-linecap="round"/>
<line x1="1530.26" y1="849.86" x2="1555" y2="855.9" stroke="#1ea8e1" stroke-width="3.8" stroke-linecap="round"/>
<line x1="1289.54" y1="987.59" x2="1301.82" y2="972.17" stroke="#73cd62" stroke-width="3.8" stroke-linecap="round"/>
<circle cx="1672.62" cy="1001.01" r="5.3" fill="#fbd22f"/>
<circle cx="1288.93" cy="997.68" r="5.3" fill="#e6bb2d"/>
<circle cx="1425.73" cy="849.12" r="5.3" fill="#20a4e3"/>
<circle cx="1555" cy="855.9" r="5.3" fill="#1da8e0"/>
<line x1="1347.65" y1="891.28" x2="1364.9" y2="882.13" stroke="#08b4d1" stroke-width="3.8" stroke-linecap="round"/>
<circle cx="1626.21" cy="905.72" r="5.3" fill="#01b9c7"/>
<line x1="1668.44" y1="996.32" x2="1676.47" y2="1012.89" stroke="#f5ee21" stroke-width="3.8" stroke-linecap="round"/>
<line x1="1659.46" y1="965.67" x2="1670.19" y2="982.17" stroke="#51cc7f" stroke-width="3.8" stroke-linecap="round"/>
<circle cx="1312.4" cy="935.71" r="5.3" fill="#1bc0b4"/>
<circle cx="1671.12" cy="989.55" r="5.3" fill="#90ca4d"/>
<line x1="1284.52" y1="1013.71" x2="1291.76" y2="997.17" stroke="#f5e228" stroke-width="3.8" stroke-linecap="round"/>
<circle cx="1657.45" cy="951.37" r="5.3" fill="#2cc4a7"/>
<line x1="1285.92" y1="1003.98" x2="1293.94" y2="987.76" stroke="#b2c535" stroke-width="3.8" stroke-linecap="round"/>
<circle cx="1296.63" cy="967.55" r="5.3" fill="#3cc991"/>
<line x1="1406.9" y1="854.05" x2="1425.73" y2="849.12" stroke="#21a3e3" stroke-width="3.8" stroke-linecap="round"/>
<line x1="1668.41" y1="990.68" x2="1675.57" y2="1007.37" stroke="#ccc028" stroke-width="3.8" stroke-linecap="round"/>
<line x1="1555" y1="855.9" x2="1575.53" y2="864.03" stroke="#1da8e0" stroke-width="3.8" stroke-linecap="round"/>
<circle cx="1285.83" cy="1006.15" r="5.3" fill="#fec636"/>
<circle cx="1675.03" cy="1004.77" r="5.3" fill="#f8ba3d"/>
<circle cx="1406.9" cy="854.05" r="5.3" fill="#21a3e3"/>
<circle cx="1347.65" cy="891.28" r="5.3" fill="#09b4d1"/>
<circle cx="1289.54" cy="987.59" r="5.3" fill="#72cd63"/>
<circle cx="1575.53" cy="864.03" r="5.3" fill="#1da9e0"/>
<line x1="1626.21" y1="905.72" x2="1639.57" y2="920.76" stroke="#01b9c6" stroke-width="3.8" stroke-linecap="round"/>
<line x1="1672.62" y1="1001.01" x2="1676.05" y2="1017.79" stroke="#fbd32f" stroke-width="3.8" stroke-linecap="round"/>
<line x1="1285.45" y1="1014.22" x2="1288.93" y2="997.68" stroke="#e5bb2d" stroke-width="3.8" stroke-linecap="round"/>
<line x1="1305.05" y1="949.24" x2="1312.4" y2="935.71" stroke="#1ac0b5" stroke-width="3.8" stroke-linecap="round"/>
<circle cx="1483.36" cy="839.62" r="5.3" fill="#2b90f0"/>
<line x1="1483.36" y1="839.62" x2="1500.34" y2="840.59" stroke="#2b91ef" stroke-width="3.8" stroke-linecap="round"/>
<line x1="1466.9" y1="840.1" x2="1483.36" y2="839.62" stroke="#2c90f0" stroke-width="3.8" stroke-linecap="round"/>
<circle cx="1670.19" cy="982.17" r="5.3" fill="#52cc7e"/>
<circle cx="1500.34" cy="840.59" r="5.3" fill="#2b91ef"/>
<circle cx="1676.47" cy="1012.89" r="5.3" fill="#f6ef20"/>
<line x1="1393.65" y1="860.25" x2="1406.9" y2="854.05" stroke="#21a3e4" stroke-width="3.8" stroke-linecap="round"/>
<line x1="1657.45" y1="951.37" x2="1663.91" y2="968.23" stroke="#2dc4a6" stroke-width="3.8" stroke-linecap="round"/>
<circle cx="1466.9" cy="840.1" r="5.3" fill="#2c8ff0"/>
<line x1="1671.12" y1="989.55" x2="1673.76" y2="1006.6" stroke="#91ca4c" stroke-width="3.8" stroke-linecap="round"/>
<line x1="1500.34" y1="840.59" x2="1516.69" y2="843.05" stroke="#2b92ee" stroke-width="3.8" stroke-linecap="round"/>
<line x1="1292.65" y1="982.93" x2="1296.63" y2="967.55" stroke="#3bc992" stroke-width="3.8" stroke-linecap="round"/>
<circle cx="1285.92" cy="1003.98" r="5.3" fill="#b1c635"/>
<circle cx="1284.52" cy="1013.71" r="5.3" fill="#f5e128"/>
<line x1="1575.53" y1="864.03" x2="1590.29" y2="873.84" stroke="#1ca9df" stroke-width="3.8" stroke-linecap="round"/>
<line x1="1452.05" y1="841.91" x2="1466.9" y2="840.1" stroke="#2c8ff1" stroke-width="3.8" stroke-linecap="round"/>
<circle cx="1516.69" cy="843.05" r="5.3" fill="#2a92ee"/>
<circle cx="1675.57" cy="1007.37" r="5.3" fill="#cdc028"/>
<line x1="1339.59" y1="901.4" x2="1347.65" y2="891.28" stroke="#0ab4d2" stroke-width="3.8" stroke-linecap="round"/>
<circle cx="1452.05" cy="841.91" r="5.3" fill="#2c8ef1"/>
<line x1="1516.69" y1="843.05" x2="1531.25" y2="846.92" stroke="#2a93ee" stroke-width="3.8" stroke-linecap="round"/>
<line x1="1286.95" y1="1022.79" x2="1285.83" y2="1006.15" stroke="#fec537" stroke-width="3.8" stroke-linecap="round"/>
<circle cx="1393.65" cy="860.25" r="5.3" fill="#22a2e4"/>
<line x1="1675.03" y1="1004.77" x2="1673.85" y2="1021.59" stroke="#f9ba3d" stroke-width="3.8" stroke-linecap="round"/>
<circle cx="1639.57" cy="920.76" r="5.3" fill="#01bac6"/>
<line x1="1439.72" y1="844.85" x2="1452.05" y2="841.91" stroke="#2c8ef1" stroke-width="3.8" stroke-linecap="round"/>
<line x1="1289.91" y1="1003.5" x2="1289.54" y2="987.59" stroke="#71cd64" stroke-width="3.8" stroke-linecap="round"/>
<circle cx="1531.25" cy="846.92" r="5.3" fill="#2a93ed"/>
<circle cx="1590.29" cy="873.84" r="5.3" fill="#1caadf"/>
<circle cx="1439.72" cy="844.85" r="5.3" fill="#2d8df2"/>
<circle cx="1676.05" cy="1017.79" r="5.3" fill="#fbd32e"/>
<circle cx="1285.45" cy="1014.22" r="5.3" fill="#e4bb2c"/>
<circle cx="1305.05" cy="949.24" r="5.3" fill="#19bfb5"/>
<line x1="1531.25" y1="846.92" x2="1542.93" y2="852.01" stroke="#2994ed" stroke-width="3.8" stroke-linecap="round"/>
<line x1="1670.19" y1="982.17" x2="1668.36" y2="999.08" stroke="#53cc7d" stroke-width="3.8" stroke-linecap="round"/>
<line x1="1386.65" y1="867.2" x2="1393.65" y2="860.25" stroke="#22a2e4" stroke-width="3.8" stroke-linecap="round"/>
<circle cx="1663.91" cy="968.23" r="5.3" fill="#2dc4a5"/>
<line x1="1430.64" y1="848.64" x2="1439.72" y2="844.85" stroke="#2d8df2" stroke-width="3.8" stroke-linecap="round"/>
<line x1="1676.47" y1="1012.89" x2="1671.52" y2="1029.59" stroke="#f6ef20" stroke-width="3.8" stroke-linecap="round"/>
<circle cx="1339.59" cy="901.4" r="5.3" fill="#0bb3d2"/>
<circle cx="1673.76" cy="1006.6" r="5.3" fill="#92ca4b"/>
<circle cx="1292.65" cy="982.93" r="5.3" fill="#3bc993"/>
<line x1="1290.79" y1="1020.33" x2="1285.92" y2="1003.98" stroke="#b0c636" stroke-width="3.8" stroke-linecap="round"/>
<line x1="1290.24" y1="1030.31" x2="1284.52" y2="1013.71" stroke="#f6e128" stroke-width="3.8" stroke-linecap="round"/>
<circle cx="1542.93" cy="852.01" r="5.3" fill="#2994ed"/>
<circle cx="1485.38" cy="842.05" r="5.3" fill="#3678fe"/>
<line x1="1675.57" y1="1007.37" x2="1669.82" y2="1024.13" stroke="#cec028" stroke-width="3.8" stroke-linecap="round"/>
<line x1="1476.21" y1="842.2" x2="1485.38" y2="842.05" stroke="#3677fe" stroke-width="3.8" stroke-linecap="round"/>
<line x1="1590.29" y1="873.84" x2="1598.08" y2="884.8" stroke="#1caadf" stroke-width="3.8" stroke-linecap="round"/>
<line x1="1485.38" y1="842.05" x2="1494.74" y2="842.73" stroke="#3578fd" stroke-width="3.8" stroke-linecap="round"/>
<circle cx="1430.64" cy="848.64" r="5.3" fill="#2d8cf3"/>
<circle cx="1476.21" cy="842.2" r="5.3" fill="#3777fe"/>
<circle cx="1494.74" cy="842.73" r="5.3" fill="#3579fd"/>
<line x1="1639.57" y1="920.76" x2="1642.5" y2="936.65" stroke="#02bac5" stroke-width="3.8" stroke-linecap="round"/>
<line x1="1467.83" y1="843.09" x2="1476.21" y2="842.2" stroke="#3876fe" stroke-width="3.8" stroke-linecap="round"/>
<line x1="1494.74" y1="842.73" x2="1503.62" y2="844.22" stroke="#3479fd" stroke-width="3.8" stroke-linecap="round"/>
<circle cx="1467.83" cy="843.09" r="5.3" fill="#3875fe"/>
<circle cx="1503.62" cy="844.22" r="5.3" fill="#347afd"/>
<circle cx="1386.65" cy="867.2" r="5.3" fill="#22a1e4"/>
<circle cx="1286.95" cy="1022.79" r="5.3" fill="#fec537"/>
<line x1="1460.76" y1="844.62" x2="1467.83" y2="843.09" stroke="#3975fe" stroke-width="3.8" stroke-linecap="round"/>
<line x1="1542.93" y1="852.01" x2="1550.82" y2="858.07" stroke="#2994ec" stroke-width="3.8" stroke-linecap="round"/>
<circle cx="1673.85" cy="1021.59" r="5.3" fill="#f9bb3d"/>
<line x1="1425.25" y1="852.96" x2="1430.64" y2="848.64" stroke="#2d8cf3" stroke-width="3.8" stroke-linecap="round"/>
<line x1="1503.62" y1="844.22" x2="1511.39" y2="846.5" stroke="#337bfd" stroke-width="3.8" stroke-linecap="round"/>
<circle cx="1289.91" cy="1003.5" r="5.3" fill="#6fcd65"/>
<circle cx="1460.76" cy="844.62" r="5.3" fill="#3974fe"/>
<circle cx="1511.39" cy="846.5" r="5.3" fill="#327bfc"/>
<line x1="1455.42" y1="846.64" x2="1460.76" y2="844.62" stroke="#3a74fe" stroke-width="3.8" stroke-linecap="round"/>
<line x1="1676.05" y1="1017.79" x2="1666.54" y2="1034.31" stroke="#fad42e" stroke-width="3.8" stroke-linecap="round"/>
<line x1="1309.34" y1="962.84" x2="1305.05" y2="949.24" stroke="#18bfb6" stroke-width="3.8" stroke-linecap="round"/>
<line x1="1294.88" y1="1030.49" x2="1285.45" y2="1014.22" stroke="#e4bb2c" stroke-width="3.8" stroke-linecap="round"/>
<line x1="1341.01" y1="911.66" x2="1339.59" y2="901.4" stroke="#0cb3d3" stroke-width="3.8" stroke-linecap="round"/>
<circle cx="1598.08" cy="884.8" r="5.3" fill="#1baade"/>
<circle cx="1550.82" cy="858.07" r="5.3" fill="#2895ec"/>
<circle cx="1425.25" cy="852.96" r="5.3" fill="#2d8bf3"/>
<line x1="1511.39" y1="846.5" x2="1517.42" y2="849.44" stroke="#327cfc" stroke-width="3.8" stroke-linecap="round"/>
<circle cx="1455.42" cy="846.64" r="5.3" fill="#3a73fe"/>
<line x1="1663.91" y1="968.23" x2="1658.22" y2="985.18" stroke="#2ec4a5" stroke-width="3.8" stroke-linecap="round"/>
<circle cx="1668.36" cy="999.08" r="5.3" fill="#55cc7c"/>
<line x1="1386.1" y1="874.32" x2="1386.65" y2="867.2" stroke="#23a1e4" stroke-width="3.8" stroke-linecap="round"/>
<line x1="1452.06" y1="848.96" x2="1455.42" y2="846.64" stroke="#3b73fe" stroke-width="3.8" stroke-linecap="round"/>
<line x1="1479.98" y1="845.9" x2="1484.4" y2="845.91" stroke="#465dfa" stroke-width="3.8" stroke-linecap="round"/>
<circle cx="1517.42" cy="849.44" r="5.3" fill="#327cfc"/>
<circle cx="1484.4" cy="845.91" r="5.3" fill="#465dfb"/>
<circle cx="1671.52" cy="1029.59" r="5.3" fill="#f6f01f"/>
<circle cx="1479.98" cy="845.9" r="5.3" fill="#475cfa"/>
<line x1="1673.76" y1="1006.6" x2="1663.6" y2="1023.35" stroke="#94ca4a" stroke-width="3.8" stroke-linecap="round"/>
<line x1="1484.4" y1="845.91" x2="1488.83" y2="846.31" stroke="#465efb" stroke-width="3.8" stroke-linecap="round"/>
<line x1="1475.87" y1="846.26" x2="1479.98" y2="845.9" stroke="#475cfa" stroke-width="3.8" stroke-linecap="round"/>
<line x1="1301.1" y1="998.1" x2="1292.65" y2="982.93" stroke="#3ac994" stroke-width="3.8" stroke-linecap="round"/>
<circle cx="1488.83" cy="846.31" r="5.3" fill="#465efb"/>
<circle cx="1475.87" cy="846.26" r="5.3" fill="#475bfa"/>
<line x1="1488.83" y1="846.31" x2="1492.95" y2="847.1" stroke="#465ffb" stroke-width="3.8" stroke-linecap="round"/>
<line x1="1472.32" y1="846.93" x2="1475.87" y2="846.26" stroke="#475bf9" stroke-width="3.8" stroke-linecap="round"/>
<circle cx="1642.5" cy="936.65" r="5.3" fill="#02bac4"/>
<line x1="1423.76" y1="857.47" x2="1425.25" y2="852.96" stroke="#2d8bf4" stroke-width="3.8" stroke-linecap="round"/>
<circle cx="1290.79" cy="1020.33" r="5.3" fill="#aec637"/>
<circle cx="1290.24" cy="1030.31" r="5.3" fill="#f6e028"/>
<circle cx="1492.95" cy="847.1" r="5.3" fill="#4660fb"/>
<circle cx="1472.32" cy="846.93" r="5.3" fill="#475af9"/>
<circle cx="1452.06" cy="848.96" r="5.3" fill="#3b72ff"/>
<line x1="1550.82" y1="858.07" x2="1554.21" y2="864.74" stroke="#2895ec" stroke-width="3.8" stroke-linecap="round"/>
<line x1="1517.42" y1="849.44" x2="1521.21" y2="852.89" stroke="#317dfc" stroke-width="3.8" stroke-linecap="round"/>
<line x1="1469.54" y1="847.86" x2="1472.32" y2="846.93" stroke="#475af9" stroke-width="3.8" stroke-linecap="round"/>
<line x1="1492.95" y1="847.1" x2="1496.44" y2="848.26" stroke="#4660fc" stroke-width="3.8" stroke-linecap="round"/>
<circle cx="1669.82" cy="1024.13" r="5.3" fill="#cfc028"/>
<circle cx="1469.54" cy="847.86" r="5.3" fill="#4759f9"/>
<circle cx="1496.44" cy="848.26" r="5.3" fill="#4661fc"/>
<line x1="1450.78" y1="851.42" x2="1452.06" y2="848.96" stroke="#3c71ff" stroke-width="3.8" stroke-linecap="round"/>
<line x1="1467.68" y1="848.95" x2="1469.54" y2="847.86" stroke="#4759f8" stroke-width="3.8" stroke-linecap="round"/>
<line x1="1496.44" y1="848.26" x2="1499.03" y2="849.71" stroke="#4561fc" stroke-width="3.8" stroke-linecap="round"/>
<line x1="1480.94" y1="848.51" x2="1482.87" y2="848.55" stroke="#4744e8" stroke-width="3.8" stroke-linecap="round"/>
<circle cx="1521.21" cy="852.89" r="5.3" fill="#317dfc"/>
<line x1="1479.12" y1="848.62" x2="1480.94" y2="848.51" stroke="#4743e7" stroke-width="3.8" stroke-linecap="round"/>
<circle cx="1480.94" cy="848.51" r="5.3" fill="#4744e8"/>
<circle cx="1467.68" cy="848.95" r="5.3" fill="#4758f8"/>
<line x1="1598.08" y1="884.8" x2="1598.14" y2="896.29" stroke="#1babde" stroke-width="3.8" stroke-linecap="round"/>
<circle cx="1482.87" cy="848.55" r="5.3" fill="#4745e9"/>
<line x1="1482.87" y1="848.55" x2="1484.76" y2="848.77" stroke="#4745e9" stroke-width="3.8" stroke-linecap="round"/>
<line x1="1300.88" y1="1038.78" x2="1286.95" y2="1022.79" stroke="#fec438" stroke-width="3.8" stroke-linecap="round"/>
<circle cx="1479.12" cy="848.62" r="5.3" fill="#4743e7"/>
<line x1="1477.51" y1="848.88" x2="1479.12" y2="848.62" stroke="#4742e6" stroke-width="3.8" stroke-linecap="round"/>
<circle cx="1423.76" cy="857.47" r="5.3" fill="#2d8bf4"/>
<circle cx="1484.76" cy="848.77" r="5.3" fill="#4746ea"/>
<line x1="1673.85" y1="1021.59" x2="1659.87" y2="1037.78" stroke="#fabb3d" stroke-width="3.8" stroke-linecap="round"/>
<circle cx="1499.03" cy="849.71" r="5.3" fill="#4562fc"/>
<line x1="1484.76" y1="848.77" x2="1486.48" y2="849.15" stroke="#4746ea" stroke-width="3.8" stroke-linecap="round"/>
<circle cx="1477.51" cy="848.88" r="5.3" fill="#4742e6"/>
<circle cx="1386.1" cy="874.32" r="5.3" fill="#23a0e5"/>
<line x1="1476.22" y1="849.26" x2="1477.51" y2="848.88" stroke="#4741e5" stroke-width="3.8" stroke-linecap="round"/>
<line x1="1466.8" y1="850.12" x2="1467.68" y2="848.95" stroke="#4758f8" stroke-width="3.8" stroke-linecap="round"/>
<circle cx="1450.78" cy="851.42" r="5.3" fill="#3d71ff"/>
<circle cx="1486.48" cy="849.15" r="5.3" fill="#4747eb"/>
<circle cx="1476.22" cy="849.26" r="5.3" fill="#4740e4"/>
<line x1="1486.48" y1="849.15" x2="1487.89" y2="849.69" stroke="#4747eb" stroke-width="3.8" stroke-linecap="round"/>
<line x1="1475.31" y1="849.72" x2="1476.22" y2="849.26" stroke="#4740e4" stroke-width="3.8" stroke-linecap="round"/>
<line x1="1302.88" y1="1018.83" x2="1289.91" y2="1003.5" stroke="#6ecd67" stroke-width="3.8" stroke-linecap="round"/>
<circle cx="1341.01" cy="911.66" r="5.3" fill="#0db3d3"/>
<line x1="1499.03" y1="849.71" x2="1500.47" y2="851.39" stroke="#4562fc" stroke-width="3.8" stroke-linecap="round"/>
<circle cx="1487.89" cy="849.69" r="5.3" fill="#4848ec"/>
<circle cx="1466.8" cy="850.12" r="5.3" fill="#4757f7"/>
<circle cx="1475.31" cy="849.72" r="5.3" fill="#473fe3"/>
<circle cx="1554.21" cy="864.74" r="5.3" fill="#2896eb"/>
<line x1="1487.89" y1="849.69" x2="1488.87" y2="850.35" stroke="#4848ec" stroke-width="3.8" stroke-linecap="round"/>
<line x1="1474.82" y1="850.22" x2="1475.31" y2="849.72" stroke="#473fe2" stroke-width="3.8" stroke-linecap="round"/>
<line x1="1521.21" y1="852.89" x2="1522.37" y2="856.64" stroke="#317efb" stroke-width="3.8" stroke-linecap="round"/>
<line x1="1480.81" y1="850.15" x2="1481.38" y2="850.14" stroke="#422fc1" stroke-width="3.8" stroke-linecap="round"/>
<line x1="1481.38" y1="850.14" x2="1481.98" y2="850.19" stroke="#4230c3" stroke-width="3.8" stroke-linecap="round"/>
<line x1="1480.31" y1="850.2" x2="1480.81" y2="850.15" stroke="#422ebf" stroke-width="3.8" stroke-linecap="round"/>
<line x1="1466.9" y1="851.29" x2="1466.8" y2="850.12" stroke="#4757f7" stroke-width="3.8" stroke-linecap="round"/>
<circle cx="1474.82" cy="850.22" r="5.3" fill="#473ee2"/>
<circle cx="1481.38" cy="850.14" r="5.3" fill="#422fc2"/>
<circle cx="1480.81" cy="850.15" r="5.3" fill="#422ec0"/>
<circle cx="1488.87" cy="850.35" r="5.3" fill="#4849ed"/>
<line x1="1451.56" y1="853.81" x2="1450.78" y2="851.42" stroke="#3d70ff" stroke-width="3.8" stroke-linecap="round"/>
<line x1="1481.98" y1="850.19" x2="1482.55" y2="850.3" stroke="#4330c5" stroke-width="3.8" stroke-linecap="round"/>
<line x1="1479.91" y1="850.3" x2="1480.31" y2="850.2" stroke="#412dbd" stroke-width="3.8" stroke-linecap="round"/>
<circle cx="1481.98" cy="850.19" r="5.3" fill="#4230c4"/>
<circle cx="1480.31" cy="850.2" r="5.3" fill="#412ebe"/>
<line x1="1479.65" y1="850.41" x2="1479.91" y2="850.3" stroke="#412cbb" stroke-width="3.8" stroke-linecap="round"/>
<circle cx="1482.55" cy="850.3" r="5.3" fill="#4331c6"/>
<circle cx="1479.91" cy="850.3" r="5.3" fill="#412dbc"/>
<line x1="1482.55" y1="850.3" x2="1483.05" y2="850.47" stroke="#4331c7" stroke-width="3.8" stroke-linecap="round"/>
<line x1="1474.75" y1="850.72" x2="1474.82" y2="850.22" stroke="#463ee1" stroke-width="3.8" stroke-linecap="round"/>
<circle cx="1500.47" cy="851.39" r="5.3" fill="#4563fc"/>
<line x1="1479.51" y1="850.53" x2="1479.65" y2="850.41" stroke="#412cb9" stroke-width="3.8" stroke-linecap="round"/>
<circle cx="1479.65" cy="850.41" r="5.3" fill="#412cba"/>
<circle cx="1309.34" cy="962.84" r="5.3" fill="#17bfb6"/>
<line x1="1488.87" y1="850.35" x2="1489.33" y2="851.09" stroke="#4849ed" stroke-width="3.8" stroke-linecap="round"/>
<circle cx="1483.05" cy="850.47" r="5.3" fill="#4331c8"/>
<line x1="1483.05" y1="850.47" x2="1483.41" y2="850.69" stroke="#4332c9" stroke-width="3.8" stroke-linecap="round"/>
<line x1="1479.5" y1="850.65" x2="1479.51" y2="850.53" stroke="#402bb7" stroke-width="3.8" stroke-linecap="round"/>
<circle cx="1479.51" cy="850.53" r="5.3" fill="#402bb8"/>
<line x1="1479.6" y1="850.75" x2="1479.5" y2="850.65" stroke="#402ab5" stroke-width="3.8" stroke-linecap="round"/>
<circle cx="1474.75" cy="850.72" r="5.3" fill="#463de0"/>
<circle cx="1479.5" cy="850.65" r="5.3" fill="#402ab6"/>
<circle cx="1483.41" cy="850.69" r="5.3" fill="#4332ca"/>
<line x1="1479.77" y1="850.82" x2="1479.6" y2="850.75" stroke="#3f29b2" stroke-width="3.8" stroke-linecap="round"/>
<line x1="1483.41" y1="850.69" x2="1483.59" y2="850.96" stroke="#4433cb" stroke-width="3.8" stroke-linecap="round"/>
<circle cx="1479.6" cy="850.75" r="5.3" fill="#402ab3"/>
<line x1="1480.5" y1="850.8" x2="1480.38" y2="850.85" stroke="#3e27a9" stroke-width="3.8" stroke-linecap="round"/>
<line x1="1479.98" y1="850.86" x2="1479.77" y2="850.82" stroke="#3f29b0" stroke-width="3.8" stroke-linecap="round"/>
<circle cx="1466.9" cy="851.29" r="5.3" fill="#4756f7"/>
<line x1="1480.38" y1="850.85" x2="1480.2" y2="850.87" stroke="#3e27ac" stroke-width="3.8" stroke-linecap="round"/>
<line x1="1480.2" y1="850.87" x2="1479.98" y2="850.86" stroke="#3f28ae" stroke-width="3.8" stroke-linecap="round"/>
<line x1="1475.06" y1="851.19" x2="1474.75" y2="850.72" stroke="#463de0" stroke-width="3.8" stroke-linecap="round"/>
<circle cx="1480.5" cy="850.8" r="5.3" fill="#3e26a8"/>
<circle cx="1479.77" cy="850.82" r="5.3" fill="#3f29b1"/>
<circle cx="1480.38" cy="850.85" r="5.3" fill="#3e27ab"/>
<circle cx="1479.98" cy="850.86" r="5.3" fill="#3f28af"/>
<circle cx="1480.2" cy="850.87" r="5.3" fill="#3f28ad"/>
<circle cx="1489.33" cy="851.09" r="5.3" fill="#484aee"/>
<line x1="1426.07" y1="861.82" x2="1423.76" y2="857.47" stroke="#2d8af4" stroke-width="3.8" stroke-linecap="round"/>
<circle cx="1483.59" cy="850.96" r="5.3" fill="#4433cc"/>
<circle cx="1666.54" cy="1034.31" r="5.3" fill="#fad42e"/>
<line x1="1483.59" y1="850.96" x2="1483.55" y2="851.24" stroke="#4433cd" stroke-width="3.8" stroke-linecap="round"/>
<circle cx="1475.06" cy="851.19" r="5.3" fill="#463cdf"/>
<line x1="1500.47" y1="851.39" x2="1500.6" y2="853.18" stroke="#4563fd" stroke-width="3.8" stroke-linecap="round"/>
<line x1="1489.33" y1="851.09" x2="1489.2" y2="851.87" stroke="#484aee" stroke-width="3.8" stroke-linecap="round"/>
<circle cx="1483.55" cy="851.24" r="5.3" fill="#4434ce"/>
<line x1="1475.72" y1="851.6" x2="1475.06" y2="851.19" stroke="#463cde" stroke-width="3.8" stroke-linecap="round"/>
<line x1="1467.89" y1="852.36" x2="1466.9" y2="851.29" stroke="#4756f6" stroke-width="3.8" stroke-linecap="round"/>
<line x1="1483.55" y1="851.24" x2="1483.28" y2="851.52" stroke="#4434cf" stroke-width="3.8" stroke-linecap="round"/>
<circle cx="1294.88" cy="1030.49" r="5.3" fill="#e3bc2c"/>
<circle cx="1483.28" cy="851.52" r="5.3" fill="#4435d0"/>
<circle cx="1451.56" cy="853.81" r="5.3" fill="#3e70ff"/>
<circle cx="1475.72" cy="851.6" r="5.3" fill="#463bde"/>
<line x1="1483.28" y1="851.52" x2="1482.77" y2="851.79" stroke="#4435d1" stroke-width="3.8" stroke-linecap="round"/>
<line x1="1476.64" y1="851.92" x2="1475.72" y2="851.6" stroke="#463bdd" stroke-width="3.8" stroke-linecap="round"/>
<circle cx="1489.2" cy="851.87" r="5.3" fill="#484bef"/>
<circle cx="1482.77" cy="851.79" r="5.3" fill="#4435d2"/>
<line x1="1482.77" y1="851.79" x2="1482.03" y2="852.01" stroke="#4536d3" stroke-width="3.8" stroke-linecap="round"/>
<circle cx="1295.26" cy="1036.83" r="5.3" fill="#f9fb15"/>
<circle cx="1522.37" cy="856.64" r="5.3" fill="#307efb"/>
<circle cx="1476.64" cy="851.92" r="5.3" fill="#463bdc"/>
<circle cx="1467.89" cy="852.36" r="5.3" fill="#4755f6"/>
<line x1="1477.73" y1="852.14" x2="1476.64" y2="851.92" stroke="#463adb" stroke-width="3.8" stroke-linecap="round"/>
<circle cx="1658.22" cy="985.18" r="5.3" fill="#2ec5a4"/>
<line x1="1489.2" y1="851.87" x2="1488.45" y2="852.64" stroke="#484bef" stroke-width="3.8" stroke-linecap="round"/>
<circle cx="1482.03" cy="852.01" r="5.3" fill="#4536d4"/>
<line x1="1482.03" y1="852.01" x2="1481.11" y2="852.16" stroke="#4536d5" stroke-width="3.8" stroke-linecap="round"/>
<circle cx="1500.6" cy="853.18" r="5.3" fill="#4564fd"/>
<line x1="1478.9" y1="852.24" x2="1477.73" y2="852.14" stroke="#4639da" stroke-width="3.8" stroke-linecap="round"/>
<circle cx="1477.73" cy="852.14" r="5.3" fill="#463ada"/>
<line x1="1481.11" y1="852.16" x2="1480.05" y2="852.24" stroke="#4537d6" stroke-width="3.8" stroke-linecap="round"/>
<circle cx="1481.11" cy="852.16" r="5.3" fill="#4537d6"/>
<line x1="1480.05" y1="852.24" x2="1478.9" y2="852.24" stroke="#4538d8" stroke-width="3.8" stroke-linecap="round"/>
<line x1="1668.36" y1="999.08" x2="1654.09" y2="1015.31" stroke="#56cc7b" stroke-width="3.8" stroke-linecap="round"/>
<circle cx="1478.9" cy="852.24" r="5.3" fill="#4539d9"/>
<circle cx="1480.05" cy="852.24" r="5.3" fill="#4538d7"/>
<line x1="1469.64" y1="853.26" x2="1467.89" y2="852.36" stroke="#4755f6" stroke-width="3.8" stroke-linecap="round"/>
<circle cx="1488.45" cy="852.64" r="5.3" fill="#484cef"/>
<line x1="1454.2" y1="855.97" x2="1451.56" y2="853.81" stroke="#3e6fff" stroke-width="3.8" stroke-linecap="round"/>
<line x1="1642.5" y1="936.65" x2="1634.6" y2="952.49" stroke="#02bac4" stroke-width="3.8" stroke-linecap="round"/>
<line x1="1391.79" y1="881.06" x2="1386.1" y2="874.32" stroke="#23a0e5" stroke-width="3.8" stroke-linecap="round"/>
<line x1="1488.45" y1="852.64" x2="1487.11" y2="853.33" stroke="#484cf0" stroke-width="3.8" stroke-linecap="round"/>
<line x1="1554.21" y1="864.74" x2="1552.71" y2="871.63" stroke="#2796eb" stroke-width="3.8" stroke-linecap="round"/>
<circle cx="1469.64" cy="853.26" r="5.3" fill="#4854f5"/>
<line x1="1500.6" y1="853.18" x2="1499.35" y2="854.97" stroke="#4464fd" stroke-width="3.8" stroke-linecap="round"/>
<line x1="1671.52" y1="1029.59" x2="1653.93" y2="1045.33" stroke="#f6f11f" stroke-width="3.8" stroke-linecap="round"/>
<circle cx="1487.11" cy="853.33" r="5.3" fill="#484df0"/>
<line x1="1471.98" y1="853.96" x2="1469.64" y2="853.26" stroke="#4854f5" stroke-width="3.8" stroke-linecap="round"/>
<circle cx="1301.1" cy="998.1" r="5.3" fill="#39c895"/>
<circle cx="1663.6" cy="1023.35" r="5.3" fill="#95ca49"/>
<line x1="1487.11" y1="853.33" x2="1485.23" y2="853.9" stroke="#484ef1" stroke-width="3.8" stroke-linecap="round"/>
<circle cx="1426.07" cy="861.82" r="5.3" fill="#2d8af5"/>
<circle cx="1598.14" cy="896.29" r="5.3" fill="#1babde"/>
<line x1="1522.37" y1="856.64" x2="1520.71" y2="860.46" stroke="#307ffb" stroke-width="3.8" stroke-linecap="round"/>
<circle cx="1471.98" cy="853.96" r="5.3" fill="#4853f5"/>
<circle cx="1485.23" cy="853.9" r="5.3" fill="#484ef1"/>
<line x1="1474.69" y1="854.4" x2="1471.98" y2="853.96" stroke="#4853f4" stroke-width="3.8" stroke-linecap="round"/>
<line x1="1485.23" y1="853.9" x2="1482.93" y2="854.3" stroke="#484ff1" stroke-width="3.8" stroke-linecap="round"/>
<circle cx="1499.35" cy="854.97" r="5.3" fill="#4465fd"/>
<line x1="1308.21" y1="1035.72" x2="1290.79" y2="1020.33" stroke="#adc638" stroke-width="3.8" stroke-linecap="round"/>
<circle cx="1454.2" cy="855.97" r="5.3" fill="#3f6fff"/>
<line x1="1308.57" y1="1045.87" x2="1290.24" y2="1030.31" stroke="#f6e029" stroke-width="3.8" stroke-linecap="round"/>
<circle cx="1482.93" cy="854.3" r="5.3" fill="#484ff2"/>
<circle cx="1474.69" cy="854.4" r="5.3" fill="#4852f4"/>
<line x1="1482.93" y1="854.3" x2="1480.34" y2="854.51" stroke="#4850f2" stroke-width="3.8" stroke-linecap="round"/>
<line x1="1477.55" y1="854.58" x2="1474.69" y2="854.4" stroke="#4852f4" stroke-width="3.8" stroke-linecap="round"/>
<line x1="1480.34" y1="854.51" x2="1477.55" y2="854.58" stroke="#4851f3" stroke-width="3.8" stroke-linecap="round"/>
<circle cx="1480.34" cy="854.51" r="5.3" fill="#4850f3"/>
<circle cx="1477.55" cy="854.58" r="5.3" fill="#4851f3"/>
<line x1="1499.35" y1="854.97" x2="1496.73" y2="856.64" stroke="#4465fd" stroke-width="3.8" stroke-linecap="round"/>
<line x1="1669.82" y1="1024.13" x2="1651.53" y2="1039.86" stroke="#d0bf27" stroke-width="3.8" stroke-linecap="round"/>
<line x1="1458.4" y1="857.76" x2="1454.2" y2="855.97" stroke="#3f6eff" stroke-width="3.8" stroke-linecap="round"/>
<line x1="1351.57" y1="921.26" x2="1341.01" y2="911.66" stroke="#0eb2d4" stroke-width="3.8" stroke-linecap="round"/>
<circle cx="1496.73" cy="856.64" r="5.3" fill="#4466fd"/>
<circle cx="1520.71" cy="860.46" r="5.3" fill="#307ffb"/>
<line x1="1431.85" y1="865.72" x2="1426.07" y2="861.82" stroke="#2d89f5" stroke-width="3.8" stroke-linecap="round"/>
<circle cx="1458.4" cy="857.76" r="5.3" fill="#3f6efe"/>
<circle cx="1552.71" cy="871.63" r="5.3" fill="#2797eb"/>
<line x1="1496.73" y1="856.64" x2="1492.86" y2="858.06" stroke="#4366fd" stroke-width="3.8" stroke-linecap="round"/>
<line x1="1463.77" y1="859.07" x2="1458.4" y2="857.76" stroke="#406dfe" stroke-width="3.8" stroke-linecap="round"/>
<circle cx="1300.88" cy="1038.78" r="5.3" fill="#fec338"/>
<circle cx="1391.79" cy="881.06" r="5.3" fill="#23a0e5"/>
<circle cx="1492.86" cy="858.06" r="5.3" fill="#4367fd"/>
<circle cx="1659.87" cy="1037.78" r="5.3" fill="#fabb3d"/>
<line x1="1520.71" y1="860.46" x2="1516.2" y2="864.11" stroke="#3080fa" stroke-width="3.8" stroke-linecap="round"/>
<line x1="1492.86" y1="858.06" x2="1487.94" y2="859.13" stroke="#4368fd" stroke-width="3.8" stroke-linecap="round"/>
<circle cx="1463.77" cy="859.07" r="5.3" fill="#406cfe"/>
<circle cx="1302.88" cy="1018.83" r="5.3" fill="#6dcd68"/>
<line x1="1324.89" y1="975.53" x2="1309.34" y2="962.84" stroke="#16bfb7" stroke-width="3.8" stroke-linecap="round"/>
<line x1="1469.85" y1="859.83" x2="1463.77" y2="859.07" stroke="#406cfe" stroke-width="3.8" stroke-linecap="round"/>
<circle cx="1431.85" cy="865.72" r="5.3" fill="#2d89f6"/>
<circle cx="1487.94" cy="859.13" r="5.3" fill="#4368fe"/>
<line x1="1487.94" y1="859.13" x2="1482.28" y2="859.77" stroke="#4369fe" stroke-width="3.8" stroke-linecap="round"/>
<circle cx="1469.85" cy="859.83" r="5.3" fill="#416bfe"/>
<line x1="1476.17" y1="860.03" x2="1469.85" y2="859.83" stroke="#416bfe" stroke-width="3.8" stroke-linecap="round"/>
<line x1="1598.14" y1="896.29" x2="1590.23" y2="907.62" stroke="#1aabdd" stroke-width="3.8" stroke-linecap="round"/>
<circle cx="1482.28" cy="859.77" r="5.3" fill="#4269fe"/>
<line x1="1482.28" y1="859.77" x2="1476.17" y2="860.03" stroke="#426afe" stroke-width="3.8" stroke-linecap="round"/>
<line x1="1666.54" y1="1034.31" x2="1644.72" y2="1049.49" stroke="#fad52d" stroke-width="3.8" stroke-linecap="round"/>
<circle cx="1476.17" cy="860.03" r="5.3" fill="#426afe"/>
<line x1="1316.59" y1="1045.41" x2="1294.88" y2="1030.49" stroke="#e2bc2b" stroke-width="3.8" stroke-linecap="round"/>
<circle cx="1516.2" cy="864.11" r="5.3" fill="#2f81fa"/>
<line x1="1552.71" y1="871.63" x2="1546.22" y2="878.29" stroke="#2797eb" stroke-width="3.8" stroke-linecap="round"/>
<line x1="1658.22" y1="985.18" x2="1640.69" y2="1001.19" stroke="#2fc5a3" stroke-width="3.8" stroke-linecap="round"/>
<line x1="1317.82" y1="1051.77" x2="1295.26" y2="1036.83" stroke="#f9fa15" stroke-width="3.8" stroke-linecap="round"/>
<circle cx="1634.6" cy="952.49" r="5.3" fill="#02bbc3"/>
<line x1="1440.53" y1="868.89" x2="1431.85" y2="865.72" stroke="#2d88f6" stroke-width="3.8" stroke-linecap="round"/>
<circle cx="1654.09" cy="1015.31" r="5.3" fill="#57cc7a"/>
<line x1="1403.07" y1="886.92" x2="1391.79" y2="881.06" stroke="#249fe5" stroke-width="3.8" stroke-linecap="round"/>
<line x1="1516.2" y1="864.11" x2="1509.03" y2="867.33" stroke="#2f81fa" stroke-width="3.8" stroke-linecap="round"/>
<line x1="1321.38" y1="1012.01" x2="1301.1" y2="998.1" stroke="#38c895" stroke-width="3.8" stroke-linecap="round"/>
<line x1="1663.6" y1="1023.35" x2="1641.3" y2="1038.72" stroke="#96ca48" stroke-width="3.8" stroke-linecap="round"/>
<circle cx="1653.93" cy="1045.33" r="5.3" fill="#f6f11e"/>
<circle cx="1351.57" cy="921.26" r="5.3" fill="#0fb2d4"/>
<circle cx="1440.53" cy="868.89" r="5.3" fill="#2d88f6"/>
<circle cx="1308.21" cy="1035.72" r="5.3" fill="#acc738"/>
<circle cx="1308.57" cy="1045.87" r="5.3" fill="#f6df29"/>
<circle cx="1509.03" cy="867.33" r="5.3" fill="#2f82fa"/>
<circle cx="1546.22" cy="878.29" r="5.3" fill="#2798ea"/>
<circle cx="1651.53" cy="1039.86" r="5.3" fill="#d1bf27"/>
<line x1="1451.39" y1="871.14" x2="1440.53" y2="868.89" stroke="#2e87f7" stroke-width="3.8" stroke-linecap="round"/>
<line x1="1509.03" y1="867.33" x2="1499.57" y2="869.89" stroke="#2f82f9" stroke-width="3.8" stroke-linecap="round"/>
<circle cx="1590.23" cy="907.62" r="5.3" fill="#1aacdd"/>
<circle cx="1403.07" cy="886.92" r="5.3" fill="#249fe6"/>
<line x1="1326.7" y1="1053.04" x2="1300.88" y2="1038.78" stroke="#fec338" stroke-width="3.8" stroke-linecap="round"/>
<line x1="1659.87" y1="1037.78" x2="1634.02" y2="1052.25" stroke="#fbbc3d" stroke-width="3.8" stroke-linecap="round"/>
<circle cx="1451.39" cy="871.14" r="5.3" fill="#2e87f7"/>
<circle cx="1499.57" cy="869.89" r="5.3" fill="#2f83f9"/>
<line x1="1327.59" y1="1032.51" x2="1302.88" y2="1018.83" stroke="#6ccd69" stroke-width="3.8" stroke-linecap="round"/>
<circle cx="1324.89" cy="975.53" r="5.3" fill="#14bfb8"/>
<line x1="1546.22" y1="878.29" x2="1535.03" y2="884.31" stroke="#2798ea" stroke-width="3.8" stroke-linecap="round"/>
<line x1="1463.57" y1="872.32" x2="1451.39" y2="871.14" stroke="#2e86f7" stroke-width="3.8" stroke-linecap="round"/>
<line x1="1499.57" y1="869.89" x2="1488.39" y2="871.6" stroke="#2e83f9" stroke-width="3.8" stroke-linecap="round"/>
<circle cx="1488.39" cy="871.6" r="5.3" fill="#2e84f9"/>
<line x1="1634.6" y1="952.49" x2="1616.21" y2="967.34" stroke="#03bbc2" stroke-width="3.8" stroke-linecap="round"/>
<circle cx="1463.57" cy="872.32" r="5.3" fill="#2e86f8"/>
<line x1="1488.39" y1="871.6" x2="1476.18" y2="872.41" stroke="#2e84f8" stroke-width="3.8" stroke-linecap="round"/>
<line x1="1476.18" y1="872.41" x2="1463.57" y2="872.32" stroke="#2e85f8" stroke-width="3.8" stroke-linecap="round"/>
<line x1="1370.33" y1="929.47" x2="1351.57" y2="921.26" stroke="#10b2d5" stroke-width="3.8" stroke-linecap="round"/>
<circle cx="1476.18" cy="872.41" r="5.3" fill="#2e85f8"/>
<circle cx="1644.72" cy="1049.49" r="5.3" fill="#fad62d"/>
<circle cx="1640.69" cy="1001.19" r="5.3" fill="#2fc5a2"/>
<circle cx="1316.59" cy="1045.41" r="5.3" fill="#e1bc2b"/>
<line x1="1418.95" y1="891.48" x2="1403.07" y2="886.92" stroke="#249ee6" stroke-width="3.8" stroke-linecap="round"/>
<circle cx="1317.82" cy="1051.77" r="5.3" fill="#f9fa16"/>
<line x1="1654.09" y1="1015.31" x2="1628.28" y2="1029.84" stroke="#58cc79" stroke-width="3.8" stroke-linecap="round"/>
<circle cx="1535.03" cy="884.31" r="5.3" fill="#2699ea"/>
<line x1="1653.93" y1="1045.33" x2="1624.86" y2="1059.07" stroke="#f6f21e" stroke-width="3.8" stroke-linecap="round"/>
<line x1="1590.23" y1="907.62" x2="1574.63" y2="918.1" stroke="#19acdc" stroke-width="3.8" stroke-linecap="round"/>
<circle cx="1321.38" cy="1012.01" r="5.3" fill="#38c896"/>
<circle cx="1641.3" cy="1038.72" r="5.3" fill="#98ca47"/>
<line x1="1337.02" y1="1049.1" x2="1308.21" y2="1035.72" stroke="#abc739" stroke-width="3.8" stroke-linecap="round"/>
<line x1="1338.26" y1="1059.35" x2="1308.57" y2="1045.87" stroke="#f6de29" stroke-width="3.8" stroke-linecap="round"/>
<line x1="1651.53" y1="1039.86" x2="1621.92" y2="1053.54" stroke="#d2bf27" stroke-width="3.8" stroke-linecap="round"/>
<circle cx="1418.95" cy="891.48" r="5.3" fill="#249ee6"/>
<line x1="1535.03" y1="884.31" x2="1519.73" y2="889.28" stroke="#2699e9" stroke-width="3.8" stroke-linecap="round"/>
<line x1="1350.58" y1="986.38" x2="1324.89" y2="975.53" stroke="#13beb8" stroke-width="3.8" stroke-linecap="round"/>
<circle cx="1326.7" cy="1053.04" r="5.3" fill="#fec239"/>
<circle cx="1634.02" cy="1052.25" r="5.3" fill="#fbbc3d"/>
<circle cx="1370.33" cy="929.47" r="5.3" fill="#11b2d5"/>
<line x1="1438.14" y1="894.42" x2="1418.95" y2="891.48" stroke="#249de6" stroke-width="3.8" stroke-linecap="round"/>
<circle cx="1327.59" cy="1032.51" r="5.3" fill="#6acd6a"/>
<circle cx="1519.73" cy="889.28" r="5.3" fill="#2699e9"/>
<circle cx="1616.21" cy="967.34" r="5.3" fill="#04bbc2"/>
<circle cx="1574.63" cy="918.1" r="5.3" fill="#19addc"/>
<line x1="1644.72" y1="1049.49" x2="1612.02" y2="1062.33" stroke="#f9d62d" stroke-width="3.8" stroke-linecap="round"/>
<line x1="1640.69" y1="1001.19" x2="1612.4" y2="1015.28" stroke="#30c5a2" stroke-width="3.8" stroke-linecap="round"/>
<line x1="1349.14" y1="1057.99" x2="1316.59" y2="1045.41" stroke="#e0bc2a" stroke-width="3.8" stroke-linecap="round"/>
<line x1="1351.15" y1="1064.3" x2="1317.82" y2="1051.77" stroke="#f9f916" stroke-width="3.8" stroke-linecap="round"/>
<line x1="1519.73" y1="889.28" x2="1501.22" y2="892.87" stroke="#269ae9" stroke-width="3.8" stroke-linecap="round"/>
<circle cx="1438.14" cy="894.42" r="5.3" fill="#259de7"/>
<circle cx="1628.28" cy="1029.84" r="5.3" fill="#59cc78"/>
<line x1="1352.15" y1="1023.7" x2="1321.38" y2="1012.01" stroke="#37c897" stroke-width="3.8" stroke-linecap="round"/>
<line x1="1641.3" y1="1038.72" x2="1608.33" y2="1051.72" stroke="#99c946" stroke-width="3.8" stroke-linecap="round"/>
<line x1="1459.22" y1="895.55" x2="1438.14" y2="894.42" stroke="#259de7" stroke-width="3.8" stroke-linecap="round"/>
<circle cx="1624.86" cy="1059.07" r="5.3" fill="#f6f21e"/>
<circle cx="1501.22" cy="892.87" r="5.3" fill="#269ae8"/>
<line x1="1395.82" y1="935.65" x2="1370.33" y2="929.47" stroke="#11b1d6" stroke-width="3.8" stroke-linecap="round"/>
<line x1="1501.22" y1="892.87" x2="1480.67" y2="894.83" stroke="#259be8" stroke-width="3.8" stroke-linecap="round"/>
<circle cx="1337.02" cy="1049.1" r="5.3" fill="#aac73a"/>
<circle cx="1338.26" cy="1059.35" r="5.3" fill="#f6de29"/>
<circle cx="1459.22" cy="895.55" r="5.3" fill="#259ce7"/>
<line x1="1480.67" y1="894.83" x2="1459.22" y2="895.55" stroke="#259ce7" stroke-width="3.8" stroke-linecap="round"/>
<line x1="1574.63" y1="918.1" x2="1552.2" y2="927.08" stroke="#19addc" stroke-width="3.8" stroke-linecap="round"/>
<circle cx="1621.92" cy="1053.54" r="5.3" fill="#d3bf27"/>
<circle cx="1480.67" cy="894.83" r="5.3" fill="#259be8"/>
<line x1="1362.69" y1="1064.64" x2="1326.7" y2="1053.04" stroke="#fec239" stroke-width="3.8" stroke-linecap="round"/>
<line x1="1634.02" y1="1052.25" x2="1598" y2="1064.07" stroke="#fcbc3d" stroke-width="3.8" stroke-linecap="round"/>
<circle cx="1350.58" cy="986.38" r="5.3" fill="#12beb9"/>
<line x1="1616.21" y1="967.34" x2="1588.39" y2="980.32" stroke="#05bbc1" stroke-width="3.8" stroke-linecap="round"/>
<line x1="1362.38" y1="1043.61" x2="1327.59" y2="1032.51" stroke="#69cd6b" stroke-width="3.8" stroke-linecap="round"/>
<circle cx="1612.02" cy="1062.33" r="5.3" fill="#f9d72d"/>
<circle cx="1612.4" cy="1015.28" r="5.3" fill="#30c5a1"/>
<circle cx="1349.14" cy="1057.99" r="5.3" fill="#dfbc2a"/>
<line x1="1628.28" y1="1029.84" x2="1592.64" y2="1041.74" stroke="#5acc77" stroke-width="3.8" stroke-linecap="round"/>
<circle cx="1351.15" cy="1064.3" r="5.3" fill="#f8f917"/>
<circle cx="1395.82" cy="935.65" r="5.3" fill="#12b1d6"/>
<circle cx="1552.2" cy="927.08" r="5.3" fill="#18addb"/>
<line x1="1624.86" y1="1059.07" x2="1586.23" y2="1069.9" stroke="#f7f31d" stroke-width="3.8" stroke-linecap="round"/>
<circle cx="1352.15" cy="1023.7" r="5.3" fill="#37c898"/>
<circle cx="1608.33" cy="1051.72" r="5.3" fill="#9ac945"/>
<line x1="1377.38" y1="1069.87" x2="1338.26" y2="1059.35" stroke="#f6dd29" stroke-width="3.8" stroke-linecap="round"/>
<line x1="1375.32" y1="1059.58" x2="1337.02" y2="1049.1" stroke="#a8c73b" stroke-width="3.8" stroke-linecap="round"/>
<line x1="1621.92" y1="1053.54" x2="1582.93" y2="1064.27" stroke="#d4bf28" stroke-width="3.8" stroke-linecap="round"/>
<line x1="1384.63" y1="994.6" x2="1350.58" y2="986.38" stroke="#11beba" stroke-width="3.8" stroke-linecap="round"/>
<line x1="1426.14" y1="939.33" x2="1395.82" y2="935.65" stroke="#13b1d7" stroke-width="3.8" stroke-linecap="round"/>
<line x1="1552.2" y1="927.08" x2="1524.26" y2="934" stroke="#18aedb" stroke-width="3.8" stroke-linecap="round"/>
<circle cx="1588.39" cy="980.32" r="5.3" fill="#05bbc1"/>
<circle cx="1362.69" cy="1064.64" r="5.3" fill="#fec13a"/>
<circle cx="1598" cy="1064.07" r="5.3" fill="#fcbd3d"/>
<circle cx="1362.38" cy="1043.61" r="5.3" fill="#68cd6c"/>
<line x1="1612.02" y1="1062.33" x2="1570.61" y2="1071.98" stroke="#f9d72c" stroke-width="3.8" stroke-linecap="round"/>
<line x1="1612.4" y1="1015.28" x2="1575.18" y2="1026.58" stroke="#31c6a0" stroke-width="3.8" stroke-linecap="round"/>
<line x1="1390.39" y1="1067.38" x2="1349.14" y2="1057.99" stroke="#debd29" stroke-width="3.8" stroke-linecap="round"/>
<line x1="1393.03" y1="1073.58" x2="1351.15" y2="1064.3" stroke="#f8f818" stroke-width="3.8" stroke-linecap="round"/>
<circle cx="1592.64" cy="1041.74" r="5.3" fill="#5ccc76"/>
<line x1="1391.32" y1="1032.36" x2="1352.15" y2="1023.7" stroke="#36c899" stroke-width="3.8" stroke-linecap="round"/>
<line x1="1608.33" y1="1051.72" x2="1566.86" y2="1061.53" stroke="#9bc944" stroke-width="3.8" stroke-linecap="round"/>
<circle cx="1524.26" cy="934" r="5.3" fill="#17aeda"/>
<circle cx="1426.14" cy="939.33" r="5.3" fill="#13b0d7"/>
<circle cx="1586.23" cy="1069.9" r="5.3" fill="#f7f31d"/>
<circle cx="1377.38" cy="1069.87" r="5.3" fill="#f7dd2a"/>
<circle cx="1375.32" cy="1059.58" r="5.3" fill="#a7c73c"/>
<line x1="1588.39" y1="980.32" x2="1552.85" y2="990.66" stroke="#06bcc0" stroke-width="3.8" stroke-linecap="round"/>
<line x1="1524.26" y1="934" x2="1492.56" y2="938.42" stroke="#16aeda" stroke-width="3.8" stroke-linecap="round"/>
<line x1="1459.15" y1="940.24" x2="1426.14" y2="939.33" stroke="#14b0d8" stroke-width="3.8" stroke-linecap="round"/>
<circle cx="1582.93" cy="1064.27" r="5.3" fill="#d5be28"/>
<circle cx="1384.63" cy="994.6" r="5.3" fill="#0fbeba"/>
<line x1="1406.48" y1="1072.8" x2="1362.69" y2="1064.64" stroke="#fec13a" stroke-width="3.8" stroke-linecap="round"/>
<line x1="1598" y1="1064.07" x2="1554.2" y2="1072.45" stroke="#fdbd3d" stroke-width="3.8" stroke-linecap="round"/>
<line x1="1404.94" y1="1051.37" x2="1362.38" y2="1043.61" stroke="#66cd6d" stroke-width="3.8" stroke-linecap="round"/>
<line x1="1492.56" y1="938.42" x2="1459.15" y2="940.24" stroke="#15afd9" stroke-width="3.8" stroke-linecap="round"/>
<circle cx="1492.56" cy="938.42" r="5.3" fill="#16afd9"/>
<circle cx="1459.15" cy="940.24" r="5.3" fill="#15afd8"/>
<circle cx="1570.61" cy="1071.98" r="5.3" fill="#f9d82c"/>
<circle cx="1575.18" cy="1026.58" r="5.3" fill="#31c6a0"/>
<circle cx="1390.39" cy="1067.38" r="5.3" fill="#ddbd29"/>
<circle cx="1393.03" cy="1073.58" r="5.3" fill="#f8f818"/>
<line x1="1592.64" y1="1041.74" x2="1549.5" y2="1050.26" stroke="#5dcc75" stroke-width="3.8" stroke-linecap="round"/>
<line x1="1586.23" y1="1069.9" x2="1540.61" y2="1077.1" stroke="#f7f41c" stroke-width="3.8" stroke-linecap="round"/>
<line x1="1423.31" y1="1076.71" x2="1377.38" y2="1069.87" stroke="#f7dc2a" stroke-width="3.8" stroke-linecap="round"/>
<line x1="1420.56" y1="1066.46" x2="1375.32" y2="1059.58" stroke="#a6c83d" stroke-width="3.8" stroke-linecap="round"/>
<circle cx="1566.86" cy="1061.53" r="5.3" fill="#9dc943"/>
<circle cx="1391.32" cy="1032.36" r="5.3" fill="#35c799"/>
<line x1="1582.93" y1="1064.27" x2="1537.15" y2="1071.36" stroke="#d6be28" stroke-width="3.8" stroke-linecap="round"/>
<line x1="1424.7" y1="999.6" x2="1384.63" y2="994.6" stroke="#0ebdbb" stroke-width="3.8" stroke-linecap="round"/>
<circle cx="1552.85" cy="990.66" r="5.3" fill="#07bcbf"/>
<circle cx="1406.48" cy="1072.8" r="5.3" fill="#fec03a"/>
<circle cx="1554.2" cy="1072.45" r="5.3" fill="#fdbd3d"/>
<line x1="1570.61" y1="1071.98" x2="1523.24" y2="1077.81" stroke="#f8d92c" stroke-width="3.8" stroke-linecap="round"/>
<line x1="1440.7" y1="1079" x2="1393.03" y2="1073.58" stroke="#f8f719" stroke-width="3.8" stroke-linecap="round"/>
<line x1="1437.58" y1="1072.96" x2="1390.39" y2="1067.38" stroke="#dcbd29" stroke-width="3.8" stroke-linecap="round"/>
<line x1="1575.18" y1="1026.58" x2="1531.45" y2="1034.43" stroke="#32c69f" stroke-width="3.8" stroke-linecap="round"/>
<circle cx="1404.94" cy="1051.37" r="5.3" fill="#65cd6e"/>
<line x1="1566.86" y1="1061.53" x2="1519.63" y2="1067.52" stroke="#9ec942" stroke-width="3.8" stroke-linecap="round"/>
<circle cx="1540.61" cy="1077.1" r="5.3" fill="#f7f41c"/>
<line x1="1436.3" y1="1037.38" x2="1391.32" y2="1032.36" stroke="#35c79a" stroke-width="3.8" stroke-linecap="round"/>
<line x1="1552.85" y1="990.66" x2="1511.86" y2="997.77" stroke="#08bcbf" stroke-width="3.8" stroke-linecap="round"/>
<circle cx="1549.5" cy="1050.26" r="5.3" fill="#5ecd74"/>
<circle cx="1423.31" cy="1076.71" r="5.3" fill="#f7db2a"/>
<line x1="1455.16" y1="1076.97" x2="1406.48" y2="1072.8" stroke="#fec03b" stroke-width="3.8" stroke-linecap="round"/>
<line x1="1554.2" y1="1072.45" x2="1505.51" y2="1076.86" stroke="#febe3c" stroke-width="3.8" stroke-linecap="round"/>
<circle cx="1424.7" cy="999.6" r="5.3" fill="#0dbdbc"/>
<circle cx="1420.56" cy="1066.46" r="5.3" fill="#a4c83e"/>
<circle cx="1537.15" cy="1071.36" r="5.3" fill="#d7be28"/>
<line x1="1540.61" y1="1077.1" x2="1491" y2="1080.2" stroke="#f7f51b" stroke-width="3.8" stroke-linecap="round"/>
<line x1="1452.43" y1="1055.25" x2="1404.94" y2="1051.37" stroke="#64cd6f" stroke-width="3.8" stroke-linecap="round"/>
<circle cx="1523.24" cy="1077.81" r="5.3" fill="#f8d92b"/>
<line x1="1473.03" y1="1079.44" x2="1423.31" y2="1076.71" stroke="#f7db2b" stroke-width="3.8" stroke-linecap="round"/>
<circle cx="1440.7" cy="1079" r="5.3" fill="#f8f719"/>
<circle cx="1437.58" cy="1072.96" r="5.3" fill="#dbbd29"/>
<line x1="1468.11" y1="1000.98" x2="1424.7" y2="999.6" stroke="#0cbdbc" stroke-width="3.8" stroke-linecap="round"/>
<line x1="1537.15" y1="1071.36" x2="1487.61" y2="1074.34" stroke="#d8be28" stroke-width="3.8" stroke-linecap="round"/>
<line x1="1549.5" y1="1050.26" x2="1501.71" y2="1054.88" stroke="#5fcd73" stroke-width="3.8" stroke-linecap="round"/>
<line x1="1469.75" y1="1069.27" x2="1420.56" y2="1066.46" stroke="#a3c83f" stroke-width="3.8" stroke-linecap="round"/>
<line x1="1523.24" y1="1077.81" x2="1473.03" y2="1079.44" stroke="#f8da2b" stroke-width="3.8" stroke-linecap="round"/>
<line x1="1491" y1="1080.2" x2="1440.7" y2="1079" stroke="#f7f61a" stroke-width="3.8" stroke-linecap="round"/>
<circle cx="1531.45" cy="1034.43" r="5.3" fill="#32c69e"/>
<circle cx="1511.86" cy="997.77" r="5.3" fill="#09bcbe"/>
<circle cx="1519.63" cy="1067.52" r="5.3" fill="#9fc941"/>
<line x1="1487.61" y1="1074.34" x2="1437.58" y2="1072.96" stroke="#dabd28" stroke-width="3.8" stroke-linecap="round"/>
<line x1="1505.51" y1="1076.86" x2="1455.16" y2="1076.97" stroke="#febf3c" stroke-width="3.8" stroke-linecap="round"/>
<circle cx="1455.16" cy="1076.97" r="5.3" fill="#febf3b"/>
<circle cx="1505.51" cy="1076.86" r="5.3" fill="#febe3c"/>
<line x1="1511.86" y1="997.77" x2="1468.11" y2="1000.98" stroke="#0abdbe" stroke-width="3.8" stroke-linecap="round"/>
<circle cx="1491" cy="1080.2" r="5.3" fill="#f7f51b"/>
<circle cx="1436.3" cy="1037.38" r="5.3" fill="#34c79b"/>
<line x1="1519.63" y1="1067.52" x2="1469.75" y2="1069.27" stroke="#a1c840" stroke-width="3.8" stroke-linecap="round"/>
<circle cx="1473.03" cy="1079.44" r="5.3" fill="#f8da2b"/>
<circle cx="1468.11" cy="1000.98" r="5.3" fill="#0bbdbd"/>
<circle cx="1487.61" cy="1074.34" r="5.3" fill="#d9be28"/>
<line x1="1531.45" y1="1034.43" x2="1484.1" y2="1038.36" stroke="#33c69d" stroke-width="3.8" stroke-linecap="round"/>
<circle cx="1469.75" cy="1069.27" r="5.3" fill="#a2c83f"/>
<circle cx="1452.43" cy="1055.25" r="5.3" fill="#63cd70"/>
<line x1="1484.1" y1="1038.36" x2="1436.3" y2="1037.38" stroke="#34c79c" stroke-width="3.8" stroke-linecap="round"/>
<line x1="1501.71" y1="1054.88" x2="1452.43" y2="1055.25" stroke="#62cd71" stroke-width="3.8" stroke-linecap="round"/>
<circle cx="1501.71" cy="1054.88" r="5.3" fill="#60cd72"/>
<circle cx="1484.1" cy="1038.36" r="5.3" fill="#33c79d"/>
<line x1="1477.8" y1="981.5" x2="1477.8" y2="881" stroke="#0072bd" stroke-width="4.6" />
<polygon points="1477.8,862.5 1468,889.5 1477.8,880 1487.6,889.5" fill="#0072bd" />
<line x1="1480.8" y1="980.4" x2="1346.08" y2="1030.34" stroke="#edb120" stroke-width="4.6" />
<polygon points="1329.2,1036.6 1357.99,1036.59 1345.14,1030.69 1351.04,1017.84" fill="#edb120" />
<text x="1452" y="821.5" font-size="32.7" text-anchor="start" font-weight="normal" font-style="normal" fill="#000" font-family="'Liberation Serif','Times New Roman',serif" >S(i)</text>
<text x="1236" y="1078" font-size="32.7" text-anchor="start" font-weight="normal" font-style="normal" fill="#000" font-family="'Liberation Serif','Times New Roman',serif" >S(f, op)</text>
<rect x="1835.8" y="1330.03" width="42.2" height="9.07" fill="#3e26a8"/>
<rect x="1835.8" y="1321.56" width="42.2" height="9.07" fill="#402ab4"/>
<rect x="1835.8" y="1313.08" width="42.2" height="9.07" fill="#422ec0"/>
<rect x="1835.8" y="1304.61" width="42.2" height="9.07" fill="#4332cb"/>
<rect x="1835.8" y="1296.14" width="42.2" height="9.07" fill="#4537d5"/>
<rect x="1835.8" y="1287.67" width="42.2" height="9.07" fill="#463cde"/>
<rect x="1835.8" y="1279.2" width="42.2" height="9.07" fill="#4741e5"/>
<rect x="1835.8" y="1270.72" width="42.2" height="9.07" fill="#4747eb"/>
<rect x="1835.8" y="1262.25" width="42.2" height="9.07" fill="#484df0"/>
<rect x="1835.8" y="1253.78" width="42.2" height="9.07" fill="#4852f4"/>
<rect x="1835.8" y="1245.31" width="42.2" height="9.07" fill="#4758f8"/>
<rect x="1835.8" y="1236.84" width="42.2" height="9.07" fill="#465efb"/>
<rect x="1835.8" y="1228.37" width="42.2" height="9.07" fill="#4563fd"/>
<rect x="1835.8" y="1219.89" width="42.2" height="9.07" fill="#4269fe"/>
<rect x="1835.8" y="1211.42" width="42.2" height="9.07" fill="#3e6fff"/>
<rect x="1835.8" y="1202.95" width="42.2" height="9.07" fill="#3875fe"/>
<rect x="1835.8" y="1194.48" width="42.2" height="9.07" fill="#327cfc"/>
<rect x="1835.8" y="1186.01" width="42.2" height="9.07" fill="#2f81fa"/>
<rect x="1835.8" y="1177.53" width="42.2" height="9.07" fill="#2e87f7"/>
<rect x="1835.8" y="1169.06" width="42.2" height="9.07" fill="#2d8cf3"/>
<rect x="1835.8" y="1160.59" width="42.2" height="9.07" fill="#2b91ef"/>
<rect x="1835.8" y="1152.12" width="42.2" height="9.07" fill="#2797eb"/>
<rect x="1835.8" y="1143.65" width="42.2" height="9.07" fill="#259be8"/>
<rect x="1835.8" y="1135.17" width="42.2" height="9.07" fill="#23a0e5"/>
<rect x="1835.8" y="1126.7" width="42.2" height="9.07" fill="#20a5e3"/>
<rect x="1835.8" y="1118.23" width="42.2" height="9.07" fill="#1ca9df"/>
<rect x="1835.8" y="1109.76" width="42.2" height="9.07" fill="#18addb"/>
<rect x="1835.8" y="1101.29" width="42.2" height="9.07" fill="#12b1d6"/>
<rect x="1835.8" y="1092.82" width="42.2" height="9.07" fill="#08b5d0"/>
<rect x="1835.8" y="1084.34" width="42.2" height="9.07" fill="#01b8ca"/>
<rect x="1835.8" y="1075.87" width="42.2" height="9.07" fill="#02bac3"/>
<rect x="1835.8" y="1067.4" width="42.2" height="9.07" fill="#0bbdbd"/>
<rect x="1835.8" y="1058.93" width="42.2" height="9.07" fill="#19bfb6"/>
<rect x="1835.8" y="1050.46" width="42.2" height="9.07" fill="#24c1ae"/>
<rect x="1835.8" y="1041.98" width="42.2" height="9.07" fill="#2cc4a7"/>
<rect x="1835.8" y="1033.51" width="42.2" height="9.07" fill="#31c69f"/>
<rect x="1835.8" y="1025.04" width="42.2" height="9.07" fill="#37c897"/>
<rect x="1835.8" y="1016.57" width="42.2" height="9.07" fill="#3fca8e"/>
<rect x="1835.8" y="1008.1" width="42.2" height="9.07" fill="#4acb84"/>
<rect x="1835.8" y="999.62" width="42.2" height="9.07" fill="#57cc7a"/>
<rect x="1835.8" y="991.15" width="42.2" height="9.07" fill="#64cd6f"/>
<rect x="1835.8" y="982.68" width="42.2" height="9.07" fill="#72cd64"/>
<rect x="1835.8" y="974.21" width="42.2" height="9.07" fill="#81cc59"/>
<rect x="1835.8" y="965.74" width="42.2" height="9.07" fill="#8fcb4e"/>
<rect x="1835.8" y="957.27" width="42.2" height="9.07" fill="#9dc943"/>
<rect x="1835.8" y="948.79" width="42.2" height="9.07" fill="#abc739"/>
<rect x="1835.8" y="940.32" width="42.2" height="9.07" fill="#b9c431"/>
<rect x="1835.8" y="931.85" width="42.2" height="9.07" fill="#c5c22a"/>
<rect x="1835.8" y="923.38" width="42.2" height="9.07" fill="#d1bf27"/>
<rect x="1835.8" y="914.91" width="42.2" height="9.07" fill="#dcbd29"/>
<rect x="1835.8" y="906.43" width="42.2" height="9.07" fill="#e6bb2d"/>
<rect x="1835.8" y="897.96" width="42.2" height="9.07" fill="#f0ba36"/>
<rect x="1835.8" y="889.49" width="42.2" height="9.07" fill="#f8ba3d"/>
<rect x="1835.8" y="881.02" width="42.2" height="9.07" fill="#febe3c"/>
<rect x="1835.8" y="872.55" width="42.2" height="9.07" fill="#fec338"/>
<rect x="1835.8" y="864.07" width="42.2" height="9.07" fill="#fec934"/>
<rect x="1835.8" y="855.6" width="42.2" height="9.07" fill="#fccf30"/>
<rect x="1835.8" y="847.13" width="42.2" height="9.07" fill="#fad62d"/>
<rect x="1835.8" y="838.66" width="42.2" height="9.07" fill="#f7dc2a"/>
<rect x="1835.8" y="830.19" width="42.2" height="9.07" fill="#f5e327"/>
<rect x="1835.8" y="821.72" width="42.2" height="9.07" fill="#f5e924"/>
<rect x="1835.8" y="813.24" width="42.2" height="9.07" fill="#f6ef20"/>
<rect x="1835.8" y="804.77" width="42.2" height="9.07" fill="#f7f51b"/>
<rect x="1835.8" y="796.3" width="42.2" height="9.07" fill="#f9fb15"/>
<rect x="1835.8" y="796.3" width="42.2" height="542.2" fill="none" stroke="#262626" stroke-width="1"/>
<line x1="1873" y1="1338.5" x2="1878" y2="1338.5" stroke="#262626" stroke-width="1.2" />
<text transform="translate(1889,1348.7) scale(0.94,1.02)" font-size="29.5" text-anchor="start" font-weight="normal" font-style="normal" fill="#262626" font-family="'Liberation Serif','Times New Roman',serif" >0</text>
<line x1="1873" y1="1278.19" x2="1878" y2="1278.19" stroke="#262626" stroke-width="1.2" />
<text transform="translate(1889,1288.39) scale(0.94,1.02)" font-size="29.5" text-anchor="start" font-weight="normal" font-style="normal" fill="#262626" font-family="'Liberation Serif','Times New Roman',serif" >2</text>
<line x1="1873" y1="1217.88" x2="1878" y2="1217.88" stroke="#262626" stroke-width="1.2" />
<text transform="translate(1889,1228.08) scale(0.94,1.02)" font-size="29.5" text-anchor="start" font-weight="normal" font-style="normal" fill="#262626" font-family="'Liberation Serif','Times New Roman',serif" >4</text>
<line x1="1873" y1="1157.57" x2="1878" y2="1157.57" stroke="#262626" stroke-width="1.2" />
<text transform="translate(1889,1167.77) scale(0.94,1.02)" font-size="29.5" text-anchor="start" font-weight="normal" font-style="normal" fill="#262626" font-family="'Liberation Serif','Times New Roman',serif" >6</text>
<line x1="1873" y1="1097.25" x2="1878" y2="1097.25" stroke="#262626" stroke-width="1.2" />
<text transform="translate(1889,1107.45) scale(0.94,1.02)" font-size="29.5" text-anchor="start" font-weight="normal" font-style="normal" fill="#262626" font-family="'Liberation Serif','Times New Roman',serif" >8</text>
<line x1="1873" y1="1036.94" x2="1878" y2="1036.94" stroke="#262626" stroke-width="1.2" />
<text transform="translate(1889,1047.14) scale(0.94,1.02)" font-size="29.5" text-anchor="start" font-weight="normal" font-style="normal" fill="#262626" font-family="'Liberation Serif','Times New Roman',serif" >10</text>
<line x1="1873" y1="976.63" x2="1878" y2="976.63" stroke="#262626" stroke-width="1.2" />
<text transform="translate(1889,986.83) scale(0.94,1.02)" font-size="29.5" text-anchor="start" font-weight="normal" font-style="normal" fill="#262626" font-family="'Liberation Serif','Times New Roman',serif" >12</text>
<line x1="1873" y1="916.32" x2="1878" y2="916.32" stroke="#262626" stroke-width="1.2" />
<text transform="translate(1889,926.52) scale(0.94,1.02)" font-size="29.5" text-anchor="start" font-weight="normal" font-style="normal" fill="#262626" font-family="'Liberation Serif','Times New Roman',serif" >14</text>
<line x1="1873" y1="856.01" x2="1878" y2="856.01" stroke="#262626" stroke-width="1.2" />
<text transform="translate(1889,866.21) scale(0.94,1.02)" font-size="29.5" text-anchor="start" font-weight="normal" font-style="normal" fill="#262626" font-family="'Liberation Serif','Times New Roman',serif" >16</text>
<text transform="translate(1948.5,1068) rotate(-90)" font-size="29" text-anchor="middle" font-family="'Liberation Serif','Times New Roman',serif" fill="#262626">Time (ps)</text>
<text x="1030" y="817" font-size="55" text-anchor="start" font-weight="bold" font-style="normal" fill="#000" font-family="'Liberation Serif','Times New Roman',serif" >d</text>
</svg></body></html>
